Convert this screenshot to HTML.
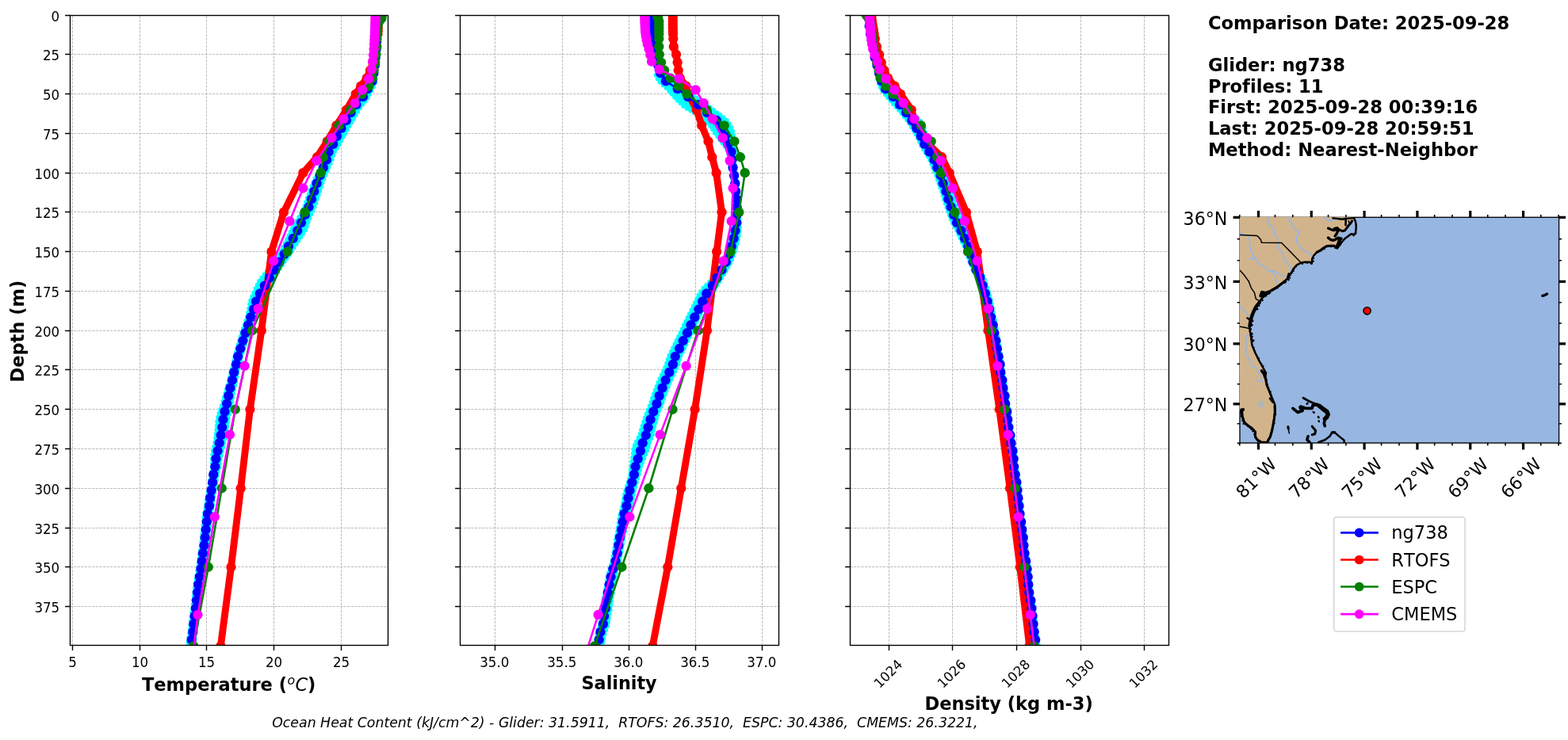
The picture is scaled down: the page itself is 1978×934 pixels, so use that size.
<!DOCTYPE html>
<html lang="en"><head><meta charset="utf-8"><title>Glider / Model Profile Comparison</title>
<style>html,body{margin:0;padding:0;background:#fff}body{width:1978px;height:934px;overflow:hidden}svg{display:block}text{font-family:"DejaVu Sans","Liberation Sans",sans-serif;fill:#000;font-variant-ligatures:none;font-kerning:none}.tk{font-size:16.67px}.b{font-weight:bold}.g{stroke:#b0b0b0;stroke-width:.87;stroke-dasharray:3.2 1.4;fill:none}.sp{stroke:#000;stroke-width:1.39;fill:none;stroke-linecap:square}.t{stroke:#000;stroke-width:1.39;fill:none}</style></head><body>
<svg width="1978" height="934" viewBox="0 0 1978 934" role="img" aria-label="Glider and ocean model profile comparison">
<rect width="1978" height="934" fill="#fff"/>
<g id="panel1">
<clipPath id="c1"><rect x="88.5" y="19.5" width="401" height="795"/></clipPath>
<path class="g" d="M91.5 814.5 V19.5 M176.5 814.5 V19.5 M260.5 814.5 V19.5 M345.5 814.5 V19.5 M430.5 814.5 V19.5 M88.5 19.5 H489.5 M88.5 68.5 H489.5 M88.5 118.5 H489.5 M88.5 168.5 H489.5 M88.5 218.5 H489.5 M88.5 267.5 H489.5 M88.5 317.5 H489.5 M88.5 367.5 H489.5 M88.5 417.5 H489.5 M88.5 466.5 H489.5 M88.5 516.5 H489.5 M88.5 566.5 H489.5 M88.5 616.5 H489.5 M88.5 666.5 H489.5 M88.5 715.5 H489.5 M88.5 765.5 H489.5"/>
<g clip-path="url(#c1)">
<path d="M473.6 17.1 L473.6 19.1 L473.55 21.1 L473.5 23.1 L473.45 25.1 L473.41 27.1 L473.36 29.1 L473.31 31.1 L473.26 33.1 L473.22 35.1 L473.17 37.1 L473.12 39.1 L473.07 41.1 L473.02 43.1 L472.96 45.1 L472.91 47.1 L472.85 49.1 L472.79 51.1 L472.68 53.1 L472.56 55.1 L472.44 57.1 L472.33 59.1 L472.21 61.1 L472.09 63.1 L471.92 65.1 L471.74 67.1 L471.57 69.1 L471.4 71.1 L471.22 73.1 L471.05 75.1 L470.88 77.1 L470.69 79.1 L470.49 81.1 L470.29 83.1 L470.09 85.1 L469.89 87.1 L469.59 89.1 L469.21 91.1 L468.69 93.1 L468.06 95.1 L467.43 97.1 L466.79 99.1 L466.3 101.1 L465.92 103.1 L464.76 105.1 L463.55 107.1 L462.35 109.1 L461.14 111.1 L459.94 113.1 L458.75 115.1 L457.56 117.1 L456.36 119.1 L455.17 121.1 L453.98 123.1 L452.28 125.1 L450.49 127.1 L448.7 129.1 L446.91 131.1 L445.17 133.1 L443.83 135.1 L442.5 137.1 L441.17 139.1 L439.83 141.1 L438.57 143.1 L437.45 145.1 L436.33 147.1 L435.22 149.1 L434.1 151.1 L432.88 153.1 L431.57 155.1 L430.25 157.1 L428.94 159.1 L427.63 161.1 L426.46 163.1 L425.35 165.1 L424.23 167.1 L423.12 169.1 L421.97 171.1 L420.97 173.1 L419.97 175.1 L418.97 177.1 L417.97 179.1 L416.97 181.1 L415.76 183.1 L414.54 185.1 L413.33 187.1 L412.11 189.1 L410.86 191.1 L410.2 193.1 L409.6 195.1 L409 197.1 L408.4 199.1 L407.78 201.1 L406.85 203.1 L405.88 205.1 L404.91 207.1 L403.94 209.1 L402.98 211.1 L402.01 213.1 L401.03 215.1 L400.06 217.1 L399.09 219.1 L398.12 221.1 L397.18 223.1 L396.25 225.1 L395.36 227.1 L394.47 229.1 L393.58 231.1 L392.81 233.1 L392.06 235.1 L391.32 237.1 L390.57 239.1 L389.82 241.1 L389.07 243.1 L388.31 245.1 L387.56 247.1 L386.81 249.1 L386.1 251.1 L385.43 253.1 L384.77 255.1 L384.1 257.1 L383.43 259.1 L382.62 261.1 L381.67 263.1 L380.72 265.1 L379.77 267.1 L378.82 269.1 L377.73 271.1 L376.52 273.1 L375.31 275.1 L374.1 277.1 L372.89 279.1 L371.69 281.1 L370.5 283.1 L369.3 285.1 L368.11 287.1 L366.92 289.1 L365.93 291.1 L365 293.1 L364.08 295.1 L363.15 297.1 L362.23 299.1 L361.28 301.1 L360.3 303.1 L359.32 305.1 L358.35 307.1 L357.37 309.1 L356.4 311.1 L355.35 313.1 L354.3 315.1 L353.25 317.1 L352.2 319.1 L350.98 321.1 L349.73 323.1 L348.48 325.1 L347.23 327.1 L345.99 329.1 L344.55 331.1 L342.95 333.1 L341.34 335.1 L339.73 337.1 L338.12 339.1 L336.48 341.1 L334.82 343.1 L333.15 345.1 L331.59 347.1 L330.02 349.1 L328.45 351.1 L326.88 353.1 L325.35 355.1 L324.41 357.1 L323.48 359.1 L322.57 361.1 L321.68 363.1 L320.79 365.1 L319.9 367.1 L319.02 369.1 L318.19 371.1 L317.34 373.1 L316.49 375.1 L315.64 377.1 L314.79 379.1 L314.28 381.1 L313.94 383.1 L313.61 385.1 L313.27 387.1 L312.93 389.1 L312.52 391.1 L312.08 393.1 L311.65 395.1 L311.22 397.1 L310.78 399.1 L310.26 401.1 L309.62 403.1 L308.99 405.1 L308.36 407.1 L307.72 409.1 L307.02 411.1 L306.29 413.1 L305.56 415.1 L304.83 417.1 L304.09 419.1 L303.44 421.1 L302.84 423.1 L302.23 425.1 L301.63 427.1 L301.03 429.1 L300.44 431.1 L299.86 433.1 L299.28 435.1 L298.69 437.1 L298.11 439.1 L297.52 441.1 L296.92 443.1 L296.32 445.1 L295.75 447.1 L295.17 449.1 L294.69 451.1 L294.31 453.1 L293.93 455.1 L293.55 457.1 L293.17 459.1 L292.72 461.1 L292.21 463.1 L291.69 465.1 L291.07 467.1 L290.45 469.1 L289.94 471.1 L289.47 473.1 L289 475.1 L288.53 477.1 L288.07 479.1 L287.51 481.1 L286.93 483.1 L286.35 485.1 L285.76 487.1 L285.18 489.1 L284.61 491.1 L284.02 493.1 L283.44 495.1 L282.85 497.1 L282.26 499.1 L281.69 501.1 L281.13 503.1 L280.56 505.1 L280 507.1 L279.43 509.1 L278.76 511.1 L278.07 513.1 L277.37 515.1 L276.68 517.1 L275.99 519.1 L275.39 521.1 L274.81 523.1 L274.23 525.1 L273.65 527.1 L273.09 529.1 L272.92 531.1 L272.79 533.1 L272.66 535.1 L272.53 537.1 L272.41 539.1 L272.19 541.1 L271.97 543.1 L271.75 545.1 L271.54 547.1 L271.32 549.1 L271.02 551.1 L270.72 553.1 L270.41 555.1 L270.11 557.1 L269.8 559.1 L269.35 561.1 L268.89 563.1 L268.43 565.1 L267.97 567.1 L267.52 569.1 L267.1 571.1 L266.96 573.1 L266.81 575.1 L266.67 577.1 L266.53 579.1 L266.58 581.1 L266.63 583.1 L266.69 585.1 L266.74 587.1 L266.8 589.1 L266.53 591.1 L266.11 593.1 L265.69 595.1 L265.28 597.1 L264.86 599.1 L264.61 601.1 L264.4 603.1 L264.18 605.1 L263.96 607.1 L263.74 609.1 L263.44 611.1 L263.12 613.1 L262.8 615.1 L262.38 617.1 L261.96 619.1 L261.54 621.1 L261.12 623.1 L260.71 625.1 L260.29 627.1 L259.87 629.1 L259.55 631.1 L259.25 633.1 L258.96 635.1 L258.77 637.1 L258.59 639.1 L258.24 641.1 L257.81 643.1 L257.38 645.1 L256.95 647.1 L256.52 649.1 L256.27 651.1 L256.09 653.1 L255.9 655.1 L255.72 657.1 L255.54 659.1 L255.33 661.1 L255.12 663.1 L254.9 665.1 L254.69 667.1 L254.47 669.1 L254.28 671.1 L254.09 673.1 L253.89 675.1 L253.7 677.1 L253.5 679.1 L253.29 681.1 L253.07 683.1 L252.86 685.1 L252.64 687.1 L252.39 689.1 L252.09 691.1 L251.79 693.1 L251.49 695.1 L251.18 697.1 L250.91 699.1 L250.68 701.1 L250.45 703.1 L250.21 705.1 L249.97 707.1 L249.71 709.1 L249.42 711.1 L249.14 713.1 L248.85 715.1 L248.57 717.1 L248.27 719.1 L247.93 721.1 L247.58 723.1 L247.24 725.1 L246.9 727.1 L246.56 729.1 L246.22 731.1 L245.88 733.1 L245.55 735.1 L245.21 737.1 L244.95 739.1 L244.73 741.1 L244.5 743.1 L244.28 745.1 L244.06 747.1 L243.84 749.1 L243.61 751.1 L243.39 753.1 L243.17 755.1 L242.94 757.1 L242.73 759.1 L242.51 761.1 L242.3 763.1 L242.09 765.1 L241.87 767.1 L241.61 769.1 L241.34 771.1 L241.07 773.1 L240.8 775.1 L240.53 777.1 L240.26 779.1 L240 781.1 L239.74 783.1 L239.48 785.1 L239.22 787.1 L238.99 789.1 L238.79 791.1 L238.58 793.1 L238.38 795.1 L238.18 797.1 L237.92 799.1 L237.58 801.1 L237.23 803.1 L236.89 805.1 L236.55 807.1 L236.3 809.1 L236.1 811.1 L235.9 813.1 L235.7 815.1 L235.5 817.1 L245.39 817.1 L245.58 815.1 L245.78 813.1 L245.98 811.1 L246.17 809.1 L246.42 807.1 L246.75 805.1 L247.09 803.1 L247.43 801.1 L247.77 799.1 L248.02 797.1 L248.22 795.1 L248.41 793.1 L248.61 791.1 L248.81 789.1 L249.04 787.1 L249.3 785.1 L249.55 783.1 L249.8 781.1 L250.06 779.1 L250.32 777.1 L250.59 775.1 L250.85 773.1 L251.12 771.1 L251.39 769.1 L251.64 767.1 L251.85 765.1 L252.06 763.1 L252.27 761.1 L252.48 759.1 L252.69 757.1 L252.9 755.1 L253.12 753.1 L253.34 751.1 L253.56 749.1 L253.78 747.1 L253.99 745.1 L254.21 743.1 L254.43 741.1 L254.65 739.1 L254.9 737.1 L255.23 735.1 L255.57 733.1 L255.9 731.1 L256.23 729.1 L256.57 727.1 L256.91 725.1 L257.24 723.1 L257.58 721.1 L257.92 719.1 L258.21 717.1 L258.49 715.1 L258.77 713.1 L259.05 711.1 L259.33 709.1 L259.59 707.1 L259.82 705.1 L260.06 703.1 L260.29 701.1 L260.53 699.1 L260.84 697.1 L261.18 695.1 L261.51 693.1 L261.85 691.1 L262.19 689.1 L262.48 687.1 L262.73 685.1 L262.98 683.1 L263.24 681.1 L263.49 679.1 L263.72 677.1 L263.95 675.1 L264.18 673.1 L264.41 671.1 L264.64 669.1 L264.89 667.1 L265.15 665.1 L265.4 663.1 L265.65 661.1 L265.89 659.1 L266.11 657.1 L266.33 655.1 L266.56 653.1 L266.78 651.1 L267.06 649.1 L267.53 647.1 L267.99 645.1 L268.46 643.1 L268.92 641.1 L269.32 639.1 L269.53 637.1 L269.75 635.1 L269.95 633.1 L270.15 631.1 L270.38 629.1 L270.7 627.1 L271.01 625.1 L271.33 623.1 L271.65 621.1 L271.96 619.1 L272.28 617.1 L272.6 615.1 L273 613.1 L273.4 611.1 L273.78 609.1 L274.08 607.1 L274.38 605.1 L274.67 603.1 L274.97 601.1 L275.3 599.1 L275.79 597.1 L276.29 595.1 L276.79 593.1 L277.28 591.1 L277.75 589.1 L278.02 587.1 L278.29 585.1 L278.56 583.1 L278.83 581.1 L279.11 579.1 L279.58 577.1 L280.04 575.1 L280.51 573.1 L280.98 571.1 L281.4 569.1 L281.84 567.1 L282.28 565.1 L282.73 563.1 L283.17 561.1 L283.6 559.1 L284.07 557.1 L284.55 555.1 L285.02 553.1 L285.5 551.1 L285.97 549.1 L286.36 547.1 L286.75 545.1 L287.07 543.1 L287.38 541.1 L287.7 539.1 L287.93 537.1 L288.16 535.1 L288.39 533.1 L288.62 531.1 L288.88 529.1 L289.25 527.1 L289.62 525.1 L289.99 523.1 L290.36 521.1 L290.75 519.1 L291.23 517.1 L291.71 515.1 L292.19 513.1 L292.67 511.1 L293.14 509.1 L293.51 507.1 L293.87 505.1 L294.24 503.1 L294.6 501.1 L294.97 499.1 L295.36 497.1 L295.75 495.1 L296.13 493.1 L296.52 491.1 L296.92 489.1 L297.38 487.1 L297.83 485.1 L298.29 483.1 L298.74 481.1 L299.17 479.1 L299.51 477.1 L299.85 475.1 L300.19 473.1 L300.53 471.1 L300.91 469.1 L301.4 467.1 L301.9 465.1 L302.47 463.1 L303.04 461.1 L303.54 459.1 L303.98 457.1 L304.42 455.1 L304.86 453.1 L305.3 451.1 L305.85 449.1 L306.48 447.1 L307.12 445.1 L307.75 443.1 L308.38 441.1 L309.01 439.1 L309.62 437.1 L310.23 435.1 L310.85 433.1 L311.46 431.1 L312.09 429.1 L312.72 427.1 L313.35 425.1 L313.99 423.1 L314.62 421.1 L315.29 419.1 L316.03 417.1 L316.76 415.1 L317.49 413.1 L318.22 411.1 L318.92 409.1 L319.56 407.1 L320.19 405.1 L320.82 403.1 L321.46 401.1 L322.14 399.1 L322.92 397.1 L323.71 395.1 L324.49 393.1 L325.27 391.1 L326.03 389.1 L326.72 387.1 L327.41 385.1 L328.1 383.1 L328.79 381.1 L329.59 379.1 L330.66 377.1 L331.73 375.1 L332.8 373.1 L333.87 371.1 L334.97 369.1 L336.19 367.1 L337.41 365.1 L338.63 363.1 L339.85 361.1 L341.1 359.1 L342.36 357.1 L343.63 355.1 L344.99 353.1 L346.36 351.1 L347.73 349.1 L349.1 347.1 L350.46 345.1 L351.8 343.1 L353.13 341.1 L354.44 339.1 L355.71 337.1 L356.99 335.1 L358.26 333.1 L359.54 331.1 L360.88 329.1 L362.32 327.1 L363.77 325.1 L365.22 323.1 L366.67 321.1 L368.09 319.1 L369.34 317.1 L370.59 315.1 L371.84 313.1 L373.09 311.1 L374.33 309.1 L375.65 307.1 L376.98 305.1 L378.31 303.1 L379.64 301.1 L380.94 299.1 L382.21 297.1 L383.49 295.1 L384.76 293.1 L386.04 291.1 L386.99 289.1 L387.69 287.1 L388.38 285.1 L389.07 283.1 L389.76 281.1 L390.47 279.1 L391.18 277.1 L391.89 275.1 L392.6 273.1 L393.31 271.1 L394.12 269.1 L395.07 267.1 L396.02 265.1 L396.97 263.1 L397.92 261.1 L398.73 259.1 L399.4 257.1 L400.07 255.1 L400.73 253.1 L401.4 251.1 L402.05 249.1 L402.69 247.1 L403.32 245.1 L403.95 243.1 L404.59 241.1 L405.22 239.1 L405.84 237.1 L406.47 235.1 L407.1 233.1 L407.74 231.1 L408.52 229.1 L409.29 227.1 L410.06 225.1 L410.87 223.1 L411.69 221.1 L412.54 219.1 L413.39 217.1 L414.24 215.1 L415.09 213.1 L415.94 211.1 L416.79 209.1 L417.64 207.1 L418.49 205.1 L419.34 203.1 L420.15 201.1 L420.74 199.1 L421.44 197.1 L422.14 195.1 L422.84 193.1 L423.61 191.1 L424.93 189.1 L426.2 187.1 L427.47 185.1 L428.74 183.1 L429.99 181.1 L431.04 179.1 L432.09 177.1 L433.14 175.1 L434.19 173.1 L435.24 171.1 L436.39 169.1 L437.46 167.1 L438.52 165.1 L439.59 163.1 L440.71 161.1 L441.97 159.1 L443.23 157.1 L444.49 155.1 L445.76 153.1 L446.93 151.1 L448 149.1 L449.06 147.1 L450.13 145.1 L451.19 143.1 L452.41 141.1 L453.69 139.1 L454.98 137.1 L456.26 135.1 L457.54 133.1 L459.24 131.1 L460.91 129.1 L462.5 127.1 L464.09 125.1 L465.59 123.1 L466.58 121.1 L467.57 119.1 L468.57 117.1 L469.56 115.1 L470.55 113.1 L471.55 111.1 L472.51 109.1 L473.42 107.1 L474.32 105.1 L475.18 103.1 L475.27 101.1 L475.2 99.1 L474.96 97.1 L474.71 95.1 L474.47 93.1 L474.5 91.1 L474.87 89.1 L475.16 87.1 L475.34 85.1 L475.53 83.1 L475.72 81.1 L475.9 79.1 L476.08 77.1 L476.24 75.1 L476.4 73.1 L476.55 71.1 L476.71 69.1 L476.87 67.1 L477.03 65.1 L477.19 63.1 L477.3 61.1 L477.4 59.1 L477.51 57.1 L477.61 55.1 L477.71 53.1 L477.81 51.1 L477.86 49.1 L477.9 47.1 L477.94 45.1 L477.98 43.1 L478.02 41.1 L478.06 39.1 L478.09 37.1 L478.13 35.1 L478.16 33.1 L478.19 31.1 L478.23 29.1 L478.26 27.1 L478.3 25.1 L478.33 23.1 L478.36 21.1 L478.4 19.1 L478.4 17.1Z" fill="#0ff" stroke="#0ff" stroke-width="1" stroke-linejoin="round"/>
<path d="M474.7 17.1 L474.7 19.1 L474.65 21.1 L474.6 23.1 L474.55 25.1 L474.51 27.1 L474.46 29.1 L474.41 31.1 L474.36 33.1 L474.32 35.1 L474.27 37.1 L474.22 39.1 L474.17 41.1 L474.12 43.1 L474.06 45.1 L474.01 47.1 L473.95 49.1 L473.89 51.1 L473.78 53.1 L473.66 55.1 L473.54 57.1 L473.43 59.1 L473.31 61.1 L473.19 63.1 L473.02 65.1 L472.84 67.1 L472.67 69.1 L472.5 71.1 L472.32 73.1 L472.15 75.1 L471.98 77.1 L471.79 79.1 L471.59 81.1 L471.39 83.1 L471.19 85.1 L470.99 87.1 L470.69 89.1 L470.31 91.1 L469.79 93.1 L469.16 95.1 L468.53 97.1 L467.89 99.1 L467.4 101.1 L467.02 103.1 L465.86 105.1 L464.65 107.1 L463.45 109.1 L462.24 111.1 L461.04 113.1 L459.85 115.1 L458.66 117.1 L457.46 119.1 L456.27 121.1 L455.08 123.1 L453.38 125.1 L451.59 127.1 L449.8 129.1 L448.01 131.1 L446.27 133.1 L444.93 135.1 L443.6 137.1 L442.27 139.1 L440.93 141.1 L439.67 143.1 L438.55 145.1 L437.43 147.1 L436.32 149.1 L435.2 151.1 L433.98 153.1 L432.67 155.1 L431.35 157.1 L430.04 159.1 L428.73 161.1 L427.56 163.1 L426.45 165.1 L425.33 167.1 L424.22 169.1 L423.07 171.1 L422.07 173.1 L421.07 175.1 L420.07 177.1 L419.07 179.1 L418.07 181.1 L416.86 183.1 L415.64 185.1 L414.43 187.1 L413.21 189.1 L411.96 191.1 L411.3 193.1 L410.69 195.1 L410.09 197.1 L409.5 199.1 L408.88 201.1 L407.95 203.1 L406.98 205.1 L406.01 207.1 L405.04 209.1 L404.08 211.1 L403.11 213.1 L402.13 215.1 L401.16 217.1 L400.19 219.1 L399.22 221.1 L398.28 223.1 L397.35 225.1 L396.46 227.1 L395.57 229.1 L394.68 231.1 L393.91 233.1 L393.16 235.1 L392.42 237.1 L391.67 239.1 L390.92 241.1 L390.17 243.1 L389.41 245.1 L388.66 247.1 L387.91 249.1 L387.2 251.1 L386.53 253.1 L385.87 255.1 L385.2 257.1 L384.53 259.1 L383.72 261.1 L382.77 263.1 L381.82 265.1 L380.87 267.1 L379.92 269.1 L378.83 271.1 L377.62 273.1 L376.41 275.1 L375.2 277.1 L373.99 279.1 L372.79 281.1 L371.6 283.1 L370.4 285.1 L369.21 287.1 L368.02 289.1 L367.03 291.1 L366.1 293.1 L365.18 295.1 L364.25 297.1 L363.33 299.1 L362.38 301.1 L361.4 303.1 L360.42 305.1 L359.45 307.1 L358.47 309.1 L357.5 311.1 L356.45 313.1 L355.4 315.1 L354.35 317.1 L353.3 319.1 L352.08 321.1 L350.83 323.1 L349.58 325.1 L348.33 327.1 L347.09 329.1 L345.65 331.1 L344.05 333.1 L342.44 335.1 L340.83 337.1 L339.22 339.1 L337.58 341.1 L335.92 343.1 L334.25 345.1 L332.69 347.1 L331.12 349.1 L329.55 351.1 L327.98 353.1 L326.45 355.1 L325.51 357.1 L324.58 359.1 L323.67 361.1 L322.78 363.1 L321.89 365.1 L321 367.1 L320.12 369.1 L319.29 371.1 L318.44 373.1 L317.59 375.1 L316.74 377.1 L315.89 379.1 L315.38 381.1 L315.04 383.1 L314.7 385.1 L314.37 387.1 L314.03 389.1 L313.62 391.1 L313.18 393.1 L312.75 395.1 L312.32 397.1 L311.88 399.1 L311.36 401.1 L310.72 403.1 L310.09 405.1 L309.46 407.1 L308.82 409.1 L308.12 411.1 L307.39 413.1 L306.66 415.1 L305.93 417.1 L305.19 419.1 L304.54 421.1 L303.94 423.1 L303.33 425.1 L302.73 427.1 L302.13 429.1 L301.54 431.1 L300.96 433.1 L300.38 435.1 L299.79 437.1 L299.21 439.1 L298.62 441.1 L298.02 443.1 L297.42 445.1 L296.85 447.1 L296.27 449.1 L295.78 451.1 L295.4 453.1 L295.02 455.1 L294.64 457.1 L294.26 459.1 L293.82 461.1 L293.31 463.1 L292.79 465.1 L292.17 467.1 L291.55 469.1 L291.04 471.1 L290.57 473.1 L290.1 475.1 L289.63 477.1 L289.17 479.1 L288.61 481.1 L288.03 483.1 L287.45 485.1 L286.86 487.1 L286.28 489.1 L285.71 491.1 L285.12 493.1 L284.54 495.1 L283.95 497.1 L283.36 499.1 L282.79 501.1 L282.23 503.1 L281.66 505.1 L281.1 507.1 L280.53 509.1 L279.86 511.1 L279.17 513.1 L278.47 515.1 L277.78 517.1 L277.09 519.1 L276.49 521.1 L275.91 523.1 L275.33 525.1 L274.75 527.1 L274.19 529.1 L274.02 531.1 L273.89 533.1 L273.76 535.1 L273.63 537.1 L273.5 539.1 L273.29 541.1 L273.07 543.1 L272.85 545.1 L272.64 547.1 L272.42 549.1 L272.12 551.1 L271.82 553.1 L271.51 555.1 L271.21 557.1 L270.9 559.1 L270.45 561.1 L269.99 563.1 L269.53 565.1 L269.07 567.1 L268.62 569.1 L268.2 571.1 L268.06 573.1 L267.91 575.1 L267.77 577.1 L267.63 579.1 L267.68 581.1 L267.73 583.1 L267.79 585.1 L267.84 587.1 L267.9 589.1 L267.63 591.1 L267.21 593.1 L266.79 595.1 L266.38 597.1 L265.96 599.1 L265.71 601.1 L265.5 603.1 L265.28 605.1 L265.06 607.1 L264.84 609.1 L264.54 611.1 L264.22 613.1 L263.9 615.1 L263.48 617.1 L263.06 619.1 L262.64 621.1 L262.22 623.1 L261.81 625.1 L261.39 627.1 L260.97 629.1 L260.65 631.1 L260.35 633.1 L260.06 635.1 L259.87 637.1 L259.69 639.1 L259.34 641.1 L258.91 643.1 L258.48 645.1 L258.05 647.1 L257.62 649.1 L257.37 651.1 L257.19 653.1 L257 655.1 L256.82 657.1 L256.64 659.1 L256.43 661.1 L256.22 663.1 L256 665.1 L255.79 667.1 L255.57 669.1 L255.38 671.1 L255.19 673.1 L254.99 675.1 L254.8 677.1 L254.6 679.1 L254.39 681.1 L254.17 683.1 L253.96 685.1 L253.74 687.1 L253.49 689.1 L253.19 691.1 L252.89 693.1 L252.59 695.1 L252.28 697.1 L252.01 699.1 L251.78 701.1 L251.55 703.1 L251.31 705.1 L251.07 707.1 L250.81 709.1 L250.52 711.1 L250.24 713.1 L249.95 715.1 L249.67 717.1 L249.37 719.1 L249.03 721.1 L248.68 723.1 L248.34 725.1 L248 727.1 L247.66 729.1 L247.32 731.1 L246.98 733.1 L246.65 735.1 L246.31 737.1 L246.05 739.1 L245.83 741.1 L245.6 743.1 L245.38 745.1 L245.16 747.1 L244.94 749.1 L244.71 751.1 L244.49 753.1 L244.27 755.1 L244.04 757.1 L243.83 759.1 L243.61 761.1 L243.4 763.1 L243.19 765.1 L242.97 767.1 L242.71 769.1 L242.44 771.1 L242.17 773.1 L241.9 775.1 L241.63 777.1 L241.36 779.1 L241.1 781.1 L240.84 783.1 L240.58 785.1 L240.32 787.1 L240.09 789.1 L239.89 791.1 L239.68 793.1 L239.48 795.1 L239.28 797.1 L239.02 799.1 L238.68 801.1 L238.33 803.1 L237.99 805.1 L237.65 807.1 L237.4 809.1 L237.2 811.1 L237 813.1 L236.8 815.1 L236.6 817.1" fill="none" stroke="#0ff" stroke-width="5.4" stroke-linecap="round" stroke-dasharray="0 5.3"/>
<path d="M477.3 17.1 L477.3 19.1 L477.26 21.1 L477.23 23.1 L477.2 25.1 L477.16 27.1 L477.13 29.1 L477.09 31.1 L477.06 33.1 L477.03 35.1 L476.99 37.1 L476.96 39.1 L476.92 41.1 L476.88 43.1 L476.84 45.1 L476.8 47.1 L476.76 49.1 L476.71 51.1 L476.61 53.1 L476.51 55.1 L476.41 57.1 L476.3 59.1 L476.2 61.1 L476.09 63.1 L475.93 65.1 L475.77 67.1 L475.61 69.1 L475.45 71.1 L475.3 73.1 L475.14 75.1 L474.98 77.1 L474.8 79.1 L474.62 81.1 L474.43 83.1 L474.24 85.1 L474.06 87.1 L473.77 89.1 L473.4 91.1 L473.37 93.1 L473.61 95.1 L473.86 97.1 L474.1 99.1 L474.17 101.1 L474.08 103.1 L473.22 105.1 L472.32 107.1 L471.41 109.1 L470.45 111.1 L469.45 113.1 L468.46 115.1 L467.47 117.1 L466.47 119.1 L465.48 121.1 L464.49 123.1 L462.99 125.1 L461.4 127.1 L459.81 129.1 L458.14 131.1 L456.44 133.1 L455.16 135.1 L453.88 137.1 L452.59 139.1 L451.31 141.1 L450.09 143.1 L449.03 145.1 L447.96 147.1 L446.9 149.1 L445.83 151.1 L444.66 153.1 L443.39 155.1 L442.13 157.1 L440.87 159.1 L439.61 161.1 L438.49 163.1 L437.42 165.1 L436.36 167.1 L435.29 169.1 L434.14 171.1 L433.09 173.1 L432.04 175.1 L430.99 177.1 L429.94 179.1 L428.89 181.1 L427.64 183.1 L426.37 185.1 L425.1 187.1 L423.83 189.1 L422.51 191.1 L421.74 193.1 L421.04 195.1 L420.34 197.1 L419.64 199.1 L419.05 201.1 L418.24 203.1 L417.39 205.1 L416.54 207.1 L415.69 209.1 L414.84 211.1 L413.99 213.1 L413.14 215.1 L412.29 217.1 L411.44 219.1 L410.59 221.1 L409.77 223.1 L408.96 225.1 L408.19 227.1 L407.42 229.1 L406.64 231.1 L406 233.1 L405.37 235.1 L404.74 237.1 L404.12 239.1 L403.49 241.1 L402.85 243.1 L402.22 245.1 L401.59 247.1 L400.95 249.1 L400.3 251.1 L399.63 253.1 L398.97 255.1 L398.3 257.1 L397.63 259.1 L396.82 261.1 L395.87 263.1 L394.92 265.1 L393.97 267.1 L393.02 269.1 L392.21 271.1 L391.5 273.1 L390.79 275.1 L390.08 277.1 L389.37 279.1 L388.66 281.1 L387.97 283.1 L387.28 285.1 L386.59 287.1 L385.89 289.1 L384.94 291.1 L383.66 293.1 L382.39 295.1 L381.11 297.1 L379.84 299.1 L378.54 301.1 L377.21 303.1 L375.88 305.1 L374.55 307.1 L373.23 309.1 L371.99 311.1 L370.74 313.1 L369.49 315.1 L368.24 317.1 L366.99 319.1 L365.57 321.1 L364.12 323.1 L362.67 325.1 L361.22 327.1 L359.78 329.1 L358.44 331.1 L357.16 333.1 L355.89 335.1 L354.61 337.1 L353.34 339.1 L352.03 341.1 L350.7 343.1 L349.36 345.1 L348 347.1 L346.63 349.1 L345.26 351.1 L343.89 353.1 L342.53 355.1 L341.26 357.1 L340 359.1 L338.75 361.1 L337.53 363.1 L336.31 365.1 L335.09 367.1 L333.87 369.1 L332.77 371.1 L331.7 373.1 L330.63 375.1 L329.56 377.1 L328.49 379.1 L327.69 381.1 L327 383.1 L326.31 385.1 L325.62 387.1 L324.93 389.1 L324.17 391.1 L323.39 393.1 L322.61 395.1 L321.82 397.1 L321.04 399.1 L320.36 401.1 L319.72 403.1 L319.09 405.1 L318.46 407.1 L317.82 409.1 L317.12 411.1 L316.39 413.1 L315.66 415.1 L314.93 417.1 L314.19 419.1 L313.52 421.1 L312.89 423.1 L312.25 425.1 L311.62 427.1 L310.99 429.1 L310.36 431.1 L309.75 433.1 L309.13 435.1 L308.52 437.1 L307.91 439.1 L307.28 441.1 L306.65 443.1 L306.02 445.1 L305.38 447.1 L304.75 449.1 L304.2 451.1 L303.76 453.1 L303.32 455.1 L302.88 457.1 L302.44 459.1 L301.94 461.1 L301.37 463.1 L300.8 465.1 L300.3 467.1 L299.81 469.1 L299.43 471.1 L299.09 473.1 L298.75 475.1 L298.41 477.1 L298.07 479.1 L297.64 481.1 L297.19 483.1 L296.73 485.1 L296.28 487.1 L295.82 489.1 L295.42 491.1 L295.03 493.1 L294.65 495.1 L294.26 497.1 L293.87 499.1 L293.5 501.1 L293.14 503.1 L292.77 505.1 L292.41 507.1 L292.04 509.1 L291.57 511.1 L291.09 513.1 L290.61 515.1 L290.13 517.1 L289.65 519.1 L289.26 521.1 L288.89 523.1 L288.52 525.1 L288.15 527.1 L287.78 529.1 L287.52 531.1 L287.29 533.1 L287.06 535.1 L286.83 537.1 L286.6 539.1 L286.28 541.1 L285.97 543.1 L285.65 545.1 L285.26 547.1 L284.87 549.1 L284.4 551.1 L283.92 553.1 L283.45 555.1 L282.97 557.1 L282.5 559.1 L282.07 561.1 L281.63 563.1 L281.18 565.1 L280.74 567.1 L280.3 569.1 L279.88 571.1 L279.41 573.1 L278.94 575.1 L278.48 577.1 L278.01 579.1 L277.73 581.1 L277.46 583.1 L277.19 585.1 L276.92 587.1 L276.65 589.1 L276.18 591.1 L275.69 593.1 L275.19 595.1 L274.69 597.1 L274.2 599.1 L273.87 601.1 L273.57 603.1 L273.28 605.1 L272.98 607.1 L272.68 609.1 L272.3 611.1 L271.9 613.1 L271.5 615.1 L271.18 617.1 L270.86 619.1 L270.55 621.1 L270.23 623.1 L269.91 625.1 L269.6 627.1 L269.28 629.1 L269.05 631.1 L268.85 633.1 L268.65 635.1 L268.43 637.1 L268.22 639.1 L267.82 641.1 L267.36 643.1 L266.89 645.1 L266.43 647.1 L265.96 649.1 L265.68 651.1 L265.46 653.1 L265.23 655.1 L265.01 657.1 L264.79 659.1 L264.55 661.1 L264.3 663.1 L264.05 665.1 L263.79 667.1 L263.54 669.1 L263.31 671.1 L263.08 673.1 L262.85 675.1 L262.62 677.1 L262.39 679.1 L262.14 681.1 L261.88 683.1 L261.63 685.1 L261.38 687.1 L261.09 689.1 L260.75 691.1 L260.41 693.1 L260.08 695.1 L259.74 697.1 L259.43 699.1 L259.19 701.1 L258.96 703.1 L258.72 705.1 L258.49 707.1 L258.23 709.1 L257.95 711.1 L257.67 713.1 L257.39 715.1 L257.11 717.1 L256.82 719.1 L256.48 721.1 L256.14 723.1 L255.81 725.1 L255.47 727.1 L255.13 729.1 L254.8 731.1 L254.47 733.1 L254.13 735.1 L253.8 737.1 L253.55 739.1 L253.33 741.1 L253.11 743.1 L252.89 745.1 L252.68 747.1 L252.46 749.1 L252.24 751.1 L252.02 753.1 L251.8 755.1 L251.59 757.1 L251.38 759.1 L251.17 761.1 L250.96 763.1 L250.75 765.1 L250.54 767.1 L250.29 769.1 L250.02 771.1 L249.75 773.1 L249.49 775.1 L249.22 777.1 L248.96 779.1 L248.7 781.1 L248.45 783.1 L248.2 785.1 L247.94 787.1 L247.71 789.1 L247.51 791.1 L247.31 793.1 L247.12 795.1 L246.92 797.1 L246.67 799.1 L246.33 801.1 L245.99 803.1 L245.65 805.1 L245.32 807.1 L245.07 809.1 L244.88 811.1 L244.68 813.1 L244.48 815.1 L244.29 817.1" fill="none" stroke="#0ff" stroke-width="5.4" stroke-linecap="round" stroke-dasharray="0 5.3" stroke-dashoffset="2"/>
<path d="M477.5 19.1 L477.3 23.08 L477.2 27.06 L477 31.04 L476.8 35.02 L476.7 39.01 L476.5 42.99 L475 48.96 L474.5 58.91 L473 68.86 L470.5 78.81 L467 88.77 L462.7 98.72 L455.3 108.67 L448.8 118.62 L437.1 138.53 L424.4 158.44 L412.7 178.34 L400 198.24 L382.4 218.15 L357.9 267.91 L342.5 317.68 L329.8 417.2 L315.4 516.73 L303.7 616.25 L291.5 715.77 L278.4 815.3" fill="none" stroke="#f00" stroke-width="8.9" stroke-linejoin="round" stroke-linecap="round"/>
<g fill="#f00"><circle cx="477.5" cy="19.1" r="6.15"/><circle cx="477.3" cy="23.08" r="6.15"/><circle cx="477.2" cy="27.06" r="6.15"/><circle cx="477" cy="31.04" r="6.15"/><circle cx="476.8" cy="35.02" r="6.15"/><circle cx="476.7" cy="39.01" r="6.15"/><circle cx="476.5" cy="42.99" r="6.15"/><circle cx="475" cy="48.96" r="6.15"/><circle cx="474.5" cy="58.91" r="6.15"/><circle cx="473" cy="68.86" r="6.15"/><circle cx="470.5" cy="78.81" r="6.15"/><circle cx="467" cy="88.77" r="6.15"/><circle cx="462.7" cy="98.72" r="6.15"/><circle cx="455.3" cy="108.67" r="6.15"/><circle cx="448.8" cy="118.62" r="6.15"/><circle cx="437.1" cy="138.53" r="6.15"/><circle cx="424.4" cy="158.44" r="6.15"/><circle cx="412.7" cy="178.34" r="6.15"/><circle cx="400" cy="198.24" r="6.15"/><circle cx="382.4" cy="218.15" r="6.15"/><circle cx="357.9" cy="267.91" r="6.15"/><circle cx="342.5" cy="317.68" r="6.15"/><circle cx="329.8" cy="417.2" r="6.15"/><circle cx="315.4" cy="516.73" r="6.15"/><circle cx="303.7" cy="616.25" r="6.15"/><circle cx="291.5" cy="715.77" r="6.15"/><circle cx="278.4" cy="815.3" r="6.15"/></g>
<path d="M475.91 22.88 L475.67 32.81 L475.43 42.75 L475.1 52.68 L474.52 62.61 L473.67 72.54 L472.75 82.47 L471.36 92.4 L469.47 102.33 L463.84 112.27 L457.92 122.2 L449.39 132.13 L442.59 142.06 L437 151.99 L430.52 161.92 L425.04 171.86 L420.26 181.79 L414.6 191.72 L412.05 201.65 L407.84 211.58 L403.61 221.51 L399.58 231.45 L396.27 241.38 L392.93 251.31 L389.46 261.24 L384.73 271.17 L379.97 281.1 L375.26 291.04 L369.65 300.97 L363.91 310.9 L358.55 320.83 L352.38 330.76 L346.36 340.69 L340.07 350.62 L333.78 360.56 L327.82 370.49 L323.14 380.42 L319.92 390.35 L316.32 400.28 L313.15 410.21 L309.52 420.15 L306.38 430.08 L303.33 440.01 L300.18 449.94 L297.97 459.87 L295.16 469.8 L293.06 479.74 L290.41 489.67 L288.24 499.6 L286.17 509.53 L283.51 519.46 L281.42 529.39 L280.26 539.33 L278.69 549.26 L276.68 559.19 L274.5 569.12 L272.43 579.05 L271.33 588.98 L269.3 598.91 L268.17 608.85 L266.62 618.78 L265.04 628.71 L264 638.64 L261.93 648.57 L260.81 658.5 L259.69 668.44 L258.65 678.37 L257.5 688.3 L255.93 698.23 L254.76 708.16 L253.37 718.09 L251.71 728.03 L250.07 737.96 L248.99 747.89 L247.91 757.82 L246.87 767.75 L245.54 777.68 L244.27 787.62 L243.27 797.55 L241.65 807.48" fill="none" stroke="#00f" stroke-width="2.6" stroke-linejoin="round"/>
<g fill="#00f"><circle cx="475.91" cy="22.88" r="6.15"/><circle cx="475.67" cy="32.81" r="6.15"/><circle cx="475.43" cy="42.75" r="6.15"/><circle cx="475.1" cy="52.68" r="6.15"/><circle cx="474.52" cy="62.61" r="6.15"/><circle cx="473.67" cy="72.54" r="6.15"/><circle cx="472.75" cy="82.47" r="6.15"/><circle cx="471.36" cy="92.4" r="6.15"/><circle cx="469.47" cy="102.33" r="6.15"/><circle cx="463.84" cy="112.27" r="6.15"/><circle cx="457.92" cy="122.2" r="6.15"/><circle cx="449.39" cy="132.13" r="6.15"/><circle cx="442.59" cy="142.06" r="6.15"/><circle cx="437" cy="151.99" r="6.15"/><circle cx="430.52" cy="161.92" r="6.15"/><circle cx="425.04" cy="171.86" r="6.15"/><circle cx="420.26" cy="181.79" r="6.15"/><circle cx="414.6" cy="191.72" r="6.15"/><circle cx="412.05" cy="201.65" r="6.15"/><circle cx="407.84" cy="211.58" r="6.15"/><circle cx="403.61" cy="221.51" r="6.15"/><circle cx="399.58" cy="231.45" r="6.15"/><circle cx="396.27" cy="241.38" r="6.15"/><circle cx="392.93" cy="251.31" r="6.15"/><circle cx="389.46" cy="261.24" r="6.15"/><circle cx="384.73" cy="271.17" r="6.15"/><circle cx="379.97" cy="281.1" r="6.15"/><circle cx="375.26" cy="291.04" r="6.15"/><circle cx="369.65" cy="300.97" r="6.15"/><circle cx="363.91" cy="310.9" r="6.15"/><circle cx="358.55" cy="320.83" r="6.15"/><circle cx="352.38" cy="330.76" r="6.15"/><circle cx="346.36" cy="340.69" r="6.15"/><circle cx="340.07" cy="350.62" r="6.15"/><circle cx="333.78" cy="360.56" r="6.15"/><circle cx="327.82" cy="370.49" r="6.15"/><circle cx="323.14" cy="380.42" r="6.15"/><circle cx="319.92" cy="390.35" r="6.15"/><circle cx="316.32" cy="400.28" r="6.15"/><circle cx="313.15" cy="410.21" r="6.15"/><circle cx="309.52" cy="420.15" r="6.15"/><circle cx="306.38" cy="430.08" r="6.15"/><circle cx="303.33" cy="440.01" r="6.15"/><circle cx="300.18" cy="449.94" r="6.15"/><circle cx="297.97" cy="459.87" r="6.15"/><circle cx="295.16" cy="469.8" r="6.15"/><circle cx="293.06" cy="479.74" r="6.15"/><circle cx="290.41" cy="489.67" r="6.15"/><circle cx="288.24" cy="499.6" r="6.15"/><circle cx="286.17" cy="509.53" r="6.15"/><circle cx="283.51" cy="519.46" r="6.15"/><circle cx="281.42" cy="529.39" r="6.15"/><circle cx="280.26" cy="539.33" r="6.15"/><circle cx="278.69" cy="549.26" r="6.15"/><circle cx="276.68" cy="559.19" r="6.15"/><circle cx="274.5" cy="569.12" r="6.15"/><circle cx="272.43" cy="579.05" r="6.15"/><circle cx="271.33" cy="588.98" r="6.15"/><circle cx="269.3" cy="598.91" r="6.15"/><circle cx="268.17" cy="608.85" r="6.15"/><circle cx="266.62" cy="618.78" r="6.15"/><circle cx="265.04" cy="628.71" r="6.15"/><circle cx="264" cy="638.64" r="6.15"/><circle cx="261.93" cy="648.57" r="6.15"/><circle cx="260.81" cy="658.5" r="6.15"/><circle cx="259.69" cy="668.44" r="6.15"/><circle cx="258.65" cy="678.37" r="6.15"/><circle cx="257.5" cy="688.3" r="6.15"/><circle cx="255.93" cy="698.23" r="6.15"/><circle cx="254.76" cy="708.16" r="6.15"/><circle cx="253.37" cy="718.09" r="6.15"/><circle cx="251.71" cy="728.03" r="6.15"/><circle cx="250.07" cy="737.96" r="6.15"/><circle cx="248.99" cy="747.89" r="6.15"/><circle cx="247.91" cy="757.82" r="6.15"/><circle cx="246.87" cy="767.75" r="6.15"/><circle cx="245.54" cy="777.68" r="6.15"/><circle cx="244.27" cy="787.62" r="6.15"/><circle cx="243.27" cy="797.55" r="6.15"/><circle cx="241.65" cy="807.48" r="6.15"/></g>
<path d="M482 19.1 L481.5 23.08 L478.5 27.06 L476.8 31.04 L476.3 35.02 L476 39.01 L475.6 42.99 L475.5 48.96 L475.35 58.91 L474.4 68.86 L473.3 78.81 L471.7 88.77 L469.6 98.72 L465.2 108.67 L456.7 118.62 L442.4 138.53 L427.5 158.44 L415.3 178.34 L407.8 198.24 L404.7 218.15 L384.5 267.91 L362.7 317.68 L318.1 417.2 L296.8 516.73 L279.8 616.25 L262.8 715.77 L244.2 815.3" fill="none" stroke="#008000" stroke-width="2.6" stroke-linejoin="round"/>
<g fill="#008000"><circle cx="482" cy="19.1" r="6.15"/><circle cx="481.5" cy="23.08" r="6.15"/><circle cx="478.5" cy="27.06" r="6.15"/><circle cx="476.8" cy="31.04" r="6.15"/><circle cx="476.3" cy="35.02" r="6.15"/><circle cx="476" cy="39.01" r="6.15"/><circle cx="475.6" cy="42.99" r="6.15"/><circle cx="475.5" cy="48.96" r="6.15"/><circle cx="475.35" cy="58.91" r="6.15"/><circle cx="474.4" cy="68.86" r="6.15"/><circle cx="473.3" cy="78.81" r="6.15"/><circle cx="471.7" cy="88.77" r="6.15"/><circle cx="469.6" cy="98.72" r="6.15"/><circle cx="465.2" cy="108.67" r="6.15"/><circle cx="456.7" cy="118.62" r="6.15"/><circle cx="442.4" cy="138.53" r="6.15"/><circle cx="427.5" cy="158.44" r="6.15"/><circle cx="415.3" cy="178.34" r="6.15"/><circle cx="407.8" cy="198.24" r="6.15"/><circle cx="404.7" cy="218.15" r="6.15"/><circle cx="384.5" cy="267.91" r="6.15"/><circle cx="362.7" cy="317.68" r="6.15"/><circle cx="318.1" cy="417.2" r="6.15"/><circle cx="296.8" cy="516.73" r="6.15"/><circle cx="279.8" cy="616.25" r="6.15"/><circle cx="262.8" cy="715.77" r="6.15"/><circle cx="244.2" cy="815.3" r="6.15"/></g>
<path d="M473.65 20.08 L473.65 22.17 L473.6 24.37 L473.5 26.7 L473.4 29.21 L473.3 31.92 L473.2 34.88 L473 38.16 L472.8 41.8 L472.6 45.91 L472.3 50.57 L472 55.92 L471.6 62.09 L471 69.28 L470.1 77.71 L468.9 87.64 L465.2 99.4 L457.2 113.4 L447.7 130.1 L433.3 150.09 L418.5 174.07 L399.4 202.87 L382.4 237.52 L365.4 279.19 L345.2 329.32 L325.6 389.58 L308.6 461.94 L289.9 548.65 L270.8 652.33 L249.5 775.91 L232 922.66" fill="none" stroke="#f0f" stroke-width="2.6" stroke-linejoin="round"/>
<g fill="#f0f"><circle cx="473.65" cy="20.08" r="6.15"/><circle cx="473.65" cy="22.17" r="6.15"/><circle cx="473.6" cy="24.37" r="6.15"/><circle cx="473.5" cy="26.7" r="6.15"/><circle cx="473.4" cy="29.21" r="6.15"/><circle cx="473.3" cy="31.92" r="6.15"/><circle cx="473.2" cy="34.88" r="6.15"/><circle cx="473" cy="38.16" r="6.15"/><circle cx="472.8" cy="41.8" r="6.15"/><circle cx="472.6" cy="45.91" r="6.15"/><circle cx="472.3" cy="50.57" r="6.15"/><circle cx="472" cy="55.92" r="6.15"/><circle cx="471.6" cy="62.09" r="6.15"/><circle cx="471" cy="69.28" r="6.15"/><circle cx="470.1" cy="77.71" r="6.15"/><circle cx="468.9" cy="87.64" r="6.15"/><circle cx="465.2" cy="99.4" r="6.15"/><circle cx="457.2" cy="113.4" r="6.15"/><circle cx="447.7" cy="130.1" r="6.15"/><circle cx="433.3" cy="150.09" r="6.15"/><circle cx="418.5" cy="174.07" r="6.15"/><circle cx="399.4" cy="202.87" r="6.15"/><circle cx="382.4" cy="237.52" r="6.15"/><circle cx="365.4" cy="279.19" r="6.15"/><circle cx="345.2" cy="329.32" r="6.15"/><circle cx="325.6" cy="389.58" r="6.15"/><circle cx="308.6" cy="461.94" r="6.15"/><circle cx="289.9" cy="548.65" r="6.15"/><circle cx="270.8" cy="652.33" r="6.15"/><circle cx="249.5" cy="775.91" r="6.15"/><circle cx="232" cy="922.66" r="6.15"/></g>
</g>
<rect class="sp" x="88.5" y="19.5" width="401" height="795"/>
<path class="t" d="M91.5 814.5 v6.4 M176.5 814.5 v6.4 M260.5 814.5 v6.4 M345.5 814.5 v6.4 M430.5 814.5 v6.4 M88.5 19.5 h-6.4 M88.5 68.5 h-6.4 M88.5 118.5 h-6.4 M88.5 168.5 h-6.4 M88.5 218.5 h-6.4 M88.5 267.5 h-6.4 M88.5 317.5 h-6.4 M88.5 367.5 h-6.4 M88.5 417.5 h-6.4 M88.5 466.5 h-6.4 M88.5 516.5 h-6.4 M88.5 566.5 h-6.4 M88.5 616.5 h-6.4 M88.5 666.5 h-6.4 M88.5 715.5 h-6.4 M88.5 765.5 h-6.4"/>
<g class="tk" text-anchor="middle">
<text transform="translate(91.5 841.9) scale(1 1.07)">5</text>
<text transform="translate(176.5 841.9) scale(1 1.07)">10</text>
<text transform="translate(260.5 841.9) scale(1 1.07)">15</text>
<text transform="translate(345.5 841.9) scale(1 1.07)">20</text>
<text transform="translate(430.5 841.9) scale(1 1.07)">25</text>
</g>
<g class="tk" text-anchor="end">
<text transform="translate(75.2 27.05) scale(1 1.07)">0</text>
<text transform="translate(75.2 76.05) scale(1 1.07)">25</text>
<text transform="translate(75.2 126.05) scale(1 1.07)">50</text>
<text transform="translate(75.2 176.05) scale(1 1.07)">75</text>
<text transform="translate(75.2 226.05) scale(1 1.07)">100</text>
<text transform="translate(75.2 275.05) scale(1 1.07)">125</text>
<text transform="translate(75.2 325.05) scale(1 1.07)">150</text>
<text transform="translate(75.2 375.05) scale(1 1.07)">175</text>
<text transform="translate(75.2 425.05) scale(1 1.07)">200</text>
<text transform="translate(75.2 474.05) scale(1 1.07)">225</text>
<text transform="translate(75.2 524.05) scale(1 1.07)">250</text>
<text transform="translate(75.2 574.05) scale(1 1.07)">275</text>
<text transform="translate(75.2 624.05) scale(1 1.07)">300</text>
<text transform="translate(75.2 674.05) scale(1 1.07)">325</text>
<text transform="translate(75.2 723.05) scale(1 1.07)">350</text>
<text transform="translate(75.2 773.05) scale(1 1.07)">375</text>
</g>
</g>
<g id="panel2">
<clipPath id="c2"><rect x="580.5" y="19.5" width="402" height="795"/></clipPath>
<path class="g" d="M624.5 814.5 V19.5 M709.5 814.5 V19.5 M793.5 814.5 V19.5 M877.5 814.5 V19.5 M961.5 814.5 V19.5 M580.5 19.5 H982.5 M580.5 68.5 H982.5 M580.5 118.5 H982.5 M580.5 168.5 H982.5 M580.5 218.5 H982.5 M580.5 267.5 H982.5 M580.5 317.5 H982.5 M580.5 367.5 H982.5 M580.5 417.5 H982.5 M580.5 466.5 H982.5 M580.5 516.5 H982.5 M580.5 566.5 H982.5 M580.5 616.5 H982.5 M580.5 666.5 H982.5 M580.5 715.5 H982.5 M580.5 765.5 H982.5"/>
<g clip-path="url(#c2)">
<path d="M820.9 17.1 L820.9 19.1 L820.91 21.1 L820.92 23.1 L820.93 25.1 L820.94 27.1 L820.95 29.1 L820.96 31.1 L820.97 33.1 L820.98 35.1 L820.99 37.1 L821 39.1 L821.01 41.1 L821.02 43.1 L821.03 45.1 L821.04 47.1 L821.05 49.1 L821.06 51.1 L821.07 53.1 L821.08 55.1 L821.09 57.1 L821.1 59.1 L821.26 61.1 L821.57 63.1 L821.87 65.1 L822.17 67.1 L822.47 69.1 L823.15 71.1 L824.15 73.1 L825.15 75.1 L826.15 77.1 L826.93 79.1 L827.53 81.1 L828.13 83.1 L828.67 85.1 L828.06 87.1 L827.46 89.1 L826.86 91.1 L826.26 93.1 L826.28 95.1 L827.12 97.1 L827.96 99.1 L828.8 101.1 L830.26 103.1 L832.63 105.1 L834.81 107.1 L836.99 109.1 L839.17 111.1 L841.23 113.1 L843.08 115.1 L844.75 117.1 L846.42 119.1 L848.08 121.1 L849.73 123.1 L851.39 125.1 L853.61 127.1 L855.84 129.1 L858.07 131.1 L860.07 133.1 L861.93 135.1 L865.31 137.1 L868.69 139.1 L872.07 141.1 L875.58 143.1 L879.19 145.1 L882.03 147.1 L884.88 149.1 L887.72 151.1 L889.94 153.1 L891.65 155.1 L893.16 157.1 L894.67 159.1 L896.18 161.1 L897.45 163.1 L898.57 165.1 L900.07 167.1 L901.57 169.1 L903.07 171.1 L904.45 173.1 L905.77 175.1 L907.28 177.1 L908.79 179.1 L910.29 181.1 L911.92 183.1 L913.58 185.1 L914.8 187.1 L916.02 189.1 L917.07 191.1 L917.6 193.1 L918.14 195.1 L918.68 197.1 L919.21 199.1 L919.57 201.1 L919.77 203.1 L919.97 205.1 L920.17 207.1 L920.38 209.1 L920.58 211.1 L920.89 213.1 L921.2 215.1 L921.52 217.1 L921.84 219.1 L922.15 221.1 L922.39 223.1 L922.62 225.1 L922.85 227.1 L923.08 229.1 L923.31 231.1 L923.48 233.1 L923.64 235.1 L923.81 237.1 L923.98 239.1 L924.14 241.1 L924.31 243.1 L924.57 245.1 L924.82 247.1 L925.07 249.1 L925.24 251.1 L925.33 253.1 L925.41 255.1 L925.49 257.1 L925.58 259.1 L925.66 261.1 L925.68 263.1 L925.65 265.1 L925.62 267.1 L925.59 269.1 L925.5 271.1 L925.37 273.1 L925.23 275.1 L925.1 277.1 L924.97 279.1 L924.76 281.1 L924.33 283.1 L923.89 285.1 L923.46 287.1 L923.03 289.1 L922.62 291.1 L922.23 293.1 L921.83 295.1 L921.43 297.1 L921.04 299.1 L920.61 301.1 L920.05 303.1 L919.48 305.1 L918.91 307.1 L918.34 309.1 L917.76 311.1 L917.16 313.1 L916.56 315.1 L915.97 317.1 L915.37 319.1 L914.76 321.1 L913.97 323.1 L913.18 325.1 L912.38 327.1 L911.59 329.1 L910.8 331.1 L909.76 333.1 L908.65 335.1 L907.53 337.1 L906.42 339.1 L905.16 341.1 L903.7 343.1 L902.25 345.1 L900.79 347.1 L899.33 349.1 L897.87 351.1 L896.19 353.1 L894.28 355.1 L892.37 357.1 L890.47 359.1 L888.36 361.1 L886.48 363.1 L884.98 365.1 L883.48 367.1 L881.98 369.1 L880.75 371.1 L879.79 373.1 L878.84 375.1 L877.88 377.1 L876.93 379.1 L875.99 381.1 L875.04 383.1 L874.09 385.1 L873.14 387.1 L872.19 389.1 L871.17 391.1 L870.12 393.1 L869.07 395.1 L868.02 397.1 L866.97 399.1 L865.98 401.1 L865.03 403.1 L864.08 405.1 L863.13 407.1 L862.18 409.1 L861.24 411.1 L860.31 413.1 L859.38 415.1 L858.45 417.1 L857.52 419.1 L856.54 421.1 L855.51 423.1 L854.49 425.1 L853.46 427.1 L852.44 429.1 L851.46 431.1 L850.54 433.1 L849.61 435.1 L848.69 437.1 L847.76 439.1 L846.79 441.1 L845.75 443.1 L844.72 445.1 L843.68 447.1 L842.65 449.1 L841.83 451.1 L841.28 453.1 L840.73 455.1 L840.17 457.1 L839.62 459.1 L838.98 461.1 L838.06 463.1 L837.14 465.1 L836.23 467.1 L835.31 469.1 L834.38 471.1 L833.45 473.1 L832.51 475.1 L831.58 477.1 L830.64 479.1 L829.81 481.1 L829.01 483.1 L828.22 485.1 L827.42 487.1 L826.62 489.1 L825.85 491.1 L825.07 493.1 L824.3 495.1 L823.52 497.1 L822.74 499.1 L822.1 501.1 L821.49 503.1 L820.87 505.1 L820.25 507.1 L819.64 509.1 L818.84 511.1 L817.99 513.1 L817.15 515.1 L816.31 517.1 L815.46 519.1 L814.71 521.1 L813.97 523.1 L813.23 525.1 L812.49 527.1 L811.75 529.1 L811.11 531.1 L810.5 533.1 L809.89 535.1 L809.28 537.1 L808.67 539.1 L808.1 541.1 L807.54 543.1 L806.97 545.1 L806.41 547.1 L805.84 549.1 L804.93 551.1 L803.85 553.1 L802.76 555.1 L801.68 557.1 L800.59 559.1 L799.77 561.1 L799.03 563.1 L798.29 565.1 L797.9 567.1 L797.81 569.1 L797.62 571.1 L797.38 573.1 L797.13 575.1 L796.89 577.1 L796.65 579.1 L796.44 581.1 L796.08 583.1 L795.6 585.1 L795.12 587.1 L794.64 589.1 L794.42 591.1 L794.26 593.1 L794.1 595.1 L793.93 597.1 L793.77 599.1 L793.42 601.1 L793.02 603.1 L792.4 605.1 L791.78 607.1 L791.16 609.1 L790.5 611.1 L789.84 613.1 L789.17 615.1 L788.51 617.1 L787.84 619.1 L787.38 621.1 L786.93 623.1 L786.47 625.1 L786.14 627.1 L785.81 629.1 L785.44 631.1 L785.06 633.1 L784.68 635.1 L784.31 637.1 L783.93 639.1 L783.4 641.1 L782.83 643.1 L782.25 645.1 L781.68 647.1 L781.11 649.1 L780.75 651.1 L780.46 653.1 L780.17 655.1 L779.88 657.1 L779.6 659.1 L779.31 661.1 L779.01 663.1 L778.71 665.1 L778.41 667.1 L778.11 669.1 L777.7 671.1 L777.28 673.1 L776.86 675.1 L776.44 677.1 L776.02 679.1 L775.71 681.1 L775.41 683.1 L775.11 685.1 L774.81 687.1 L774.51 689.1 L774.19 691.1 L773.88 693.1 L773.56 695.1 L773.24 697.1 L772.9 699.1 L772.48 701.1 L772.06 703.1 L771.64 705.1 L771.22 707.1 L770.75 709.1 L770.11 711.1 L769.47 713.1 L768.84 715.1 L768.2 717.1 L767.62 719.1 L767.1 721.1 L766.59 723.1 L766.09 725.1 L765.58 727.1 L765.15 729.1 L764.82 731.1 L764.48 733.1 L764.14 735.1 L763.8 737.1 L763.48 739.1 L763.14 741.1 L762.78 743.1 L762.42 745.1 L762.06 747.1 L761.71 749.1 L761.37 751.1 L761.02 753.1 L760.68 755.1 L760.34 757.1 L760.08 759.1 L759.87 761.1 L759.66 763.1 L759.45 765.1 L759.24 767.1 L758.88 769.1 L758.49 771.1 L758.09 773.1 L757.69 775.1 L757.3 777.1 L756.98 779.1 L756.75 781.1 L756.52 783.1 L756.29 785.1 L756.06 787.1 L755.48 789.1 L754.79 791.1 L754.1 793.1 L753.41 795.1 L752.71 797.1 L752.17 799.1 L751.83 801.1 L751.49 803.1 L751.15 805.1 L750.82 807.1 L750.5 809.1 L750.18 811.1 L749.87 813.1 L749.55 815.1 L749.24 817.1 L760.64 817.1 L761.02 815.1 L761.4 813.1 L761.78 811.1 L762.16 809.1 L762.55 807.1 L762.95 805.1 L763.35 803.1 L763.76 801.1 L764.16 799.1 L764.78 797.1 L765.54 795.1 L766.29 793.1 L767.05 791.1 L767.78 789.1 L768.36 787.1 L768.59 785.1 L768.82 783.1 L769.05 781.1 L769.28 779.1 L769.6 777.1 L769.99 775.1 L770.39 773.1 L770.79 771.1 L771.18 769.1 L771.54 767.1 L771.75 765.1 L771.96 763.1 L772.17 761.1 L772.38 759.1 L772.64 757.1 L772.98 755.1 L773.32 753.1 L773.67 751.1 L774.01 749.1 L774.36 747.1 L774.72 745.1 L775.08 743.1 L775.44 741.1 L775.73 739.1 L775.96 737.1 L776.19 735.1 L776.43 733.1 L776.67 731.1 L776.91 729.1 L777.24 727.1 L777.64 725.1 L778.05 723.1 L778.45 721.1 L778.92 719.1 L779.53 717.1 L780.18 715.1 L780.83 713.1 L781.48 711.1 L782.14 709.1 L782.63 707.1 L783.06 705.1 L783.5 703.1 L783.93 701.1 L784.37 699.1 L784.73 697.1 L785.07 695.1 L785.4 693.1 L785.73 691.1 L786.07 689.1 L786.38 687.1 L786.7 685.1 L787.02 683.1 L787.33 681.1 L787.67 679.1 L788.1 677.1 L788.54 675.1 L788.97 673.1 L789.41 671.1 L789.83 669.1 L790.15 667.1 L790.47 665.1 L790.78 663.1 L791.1 661.1 L791.45 659.1 L791.85 657.1 L792.25 655.1 L792.65 653.1 L793.06 651.1 L793.53 649.1 L794.22 647.1 L794.91 645.1 L795.59 643.1 L796.28 641.1 L796.92 639.1 L797.41 637.1 L797.91 635.1 L798.4 633.1 L798.89 631.1 L799.38 629.1 L799.82 627.1 L800.27 625.1 L800.63 623.1 L800.99 621.1 L801.35 619.1 L801.91 617.1 L802.48 615.1 L803.04 613.1 L803.61 611.1 L804.16 609.1 L804.69 607.1 L805.21 605.1 L805.73 603.1 L806.4 601.1 L807.04 599.1 L807.5 597.1 L807.96 595.1 L808.42 593.1 L808.88 591.1 L809.39 589.1 L810.16 587.1 L810.94 585.1 L811.72 583.1 L812.51 581.1 L813.34 579.1 L814.19 577.1 L815.05 575.1 L815.9 573.1 L816.76 571.1 L817.56 569.1 L818.27 567.1 L818.86 565.1 L819.31 563.1 L819.76 561.1 L820.3 559.1 L821.1 557.1 L821.89 555.1 L822.69 553.1 L823.49 551.1 L824.19 549.1 L824.65 547.1 L825.11 545.1 L825.57 543.1 L826.03 541.1 L826.49 539.1 L826.99 537.1 L827.49 535.1 L828 533.1 L828.5 531.1 L829.04 529.1 L829.67 527.1 L830.3 525.1 L830.94 523.1 L831.57 521.1 L832.27 519.1 L833.13 517.1 L833.99 515.1 L834.85 513.1 L835.71 511.1 L836.53 509.1 L837.16 507.1 L837.79 505.1 L838.43 503.1 L839.06 501.1 L839.72 499.1 L840.51 497.1 L841.3 495.1 L842.1 493.1 L842.89 491.1 L843.68 489.1 L844.49 487.1 L845.31 485.1 L846.12 483.1 L846.93 481.1 L847.79 479.1 L848.74 477.1 L849.69 475.1 L850.64 473.1 L851.59 471.1 L852.53 469.1 L853.47 467.1 L854.4 465.1 L855.33 463.1 L856.27 461.1 L856.91 459.1 L857.44 457.1 L857.96 455.1 L858.49 453.1 L859.02 451.1 L859.81 449.1 L860.82 447.1 L861.83 445.1 L862.84 443.1 L863.85 441.1 L864.8 439.1 L865.7 437.1 L866.6 435.1 L867.5 433.1 L868.4 431.1 L869.35 429.1 L870.35 427.1 L871.35 425.1 L872.35 423.1 L873.35 421.1 L874.31 419.1 L875.21 417.1 L876.12 415.1 L877.02 413.1 L877.93 411.1 L878.84 409.1 L879.77 407.1 L880.69 405.1 L881.62 403.1 L882.55 401.1 L883.51 399.1 L884.53 397.1 L885.56 395.1 L886.58 393.1 L887.6 391.1 L888.6 389.1 L889.52 387.1 L890.45 385.1 L891.38 383.1 L892.3 381.1 L893.28 379.1 L894.34 377.1 L895.41 375.1 L896.48 373.1 L897.54 371.1 L898.88 369.1 L900.49 367.1 L902.1 365.1 L903.71 363.1 L905.34 361.1 L906.75 359.1 L907.96 357.1 L909.16 355.1 L910.37 353.1 L911.56 351.1 L912.77 349.1 L913.98 347.1 L915.18 345.1 L916.39 343.1 L917.6 341.1 L918.72 339.1 L919.83 337.1 L920.95 335.1 L922.06 333.1 L923.1 331.1 L923.89 329.1 L924.68 327.1 L925.48 325.1 L926.27 323.1 L927.06 321.1 L927.67 319.1 L928.27 317.1 L928.86 315.1 L929.46 313.1 L930.06 311.1 L930.6 309.1 L931.06 307.1 L931.53 305.1 L932 303.1 L932.47 301.1 L932.79 299.1 L933.09 297.1 L933.38 295.1 L933.68 293.1 L933.98 291.1 L934.17 289.1 L934.25 287.1 L934.34 285.1 L934.42 283.1 L934.5 281.1 L934.36 279.1 L934.14 277.1 L933.93 275.1 L933.71 273.1 L933.49 271.1 L933.39 269.1 L933.42 267.1 L933.45 265.1 L933.48 263.1 L933.46 261.1 L933.38 259.1 L933.29 257.1 L933.21 255.1 L933.13 253.1 L933.04 251.1 L932.87 249.1 L932.62 247.1 L932.37 245.1 L932.11 243.1 L931.94 241.1 L931.77 239.1 L931.61 237.1 L931.44 235.1 L931.27 233.1 L931.11 231.1 L930.88 229.1 L930.65 227.1 L930.42 225.1 L930.19 223.1 L929.95 221.1 L929.64 219.1 L929.32 217.1 L929 215.1 L928.69 213.1 L928.38 211.1 L928.18 209.1 L927.97 207.1 L927.77 205.1 L927.57 203.1 L927.37 201.1 L927.37 199.1 L927.64 197.1 L927.9 195.1 L928.16 193.1 L928.43 191.1 L928.18 189.1 L927.76 187.1 L927.34 185.1 L927.05 183.1 L926.82 181.1 L926.72 179.1 L926.61 177.1 L926.5 175.1 L926.39 173.1 L926.21 171.1 L925.91 169.1 L925.61 167.1 L925.31 165.1 L924.63 163.1 L923.76 161.1 L922.65 159.1 L921.54 157.1 L920.43 155.1 L919.12 153.1 L917.3 151.1 L914.86 149.1 L912.41 147.1 L909.97 145.1 L907.14 143.1 L904.43 141.1 L901.85 139.1 L899.27 137.1 L896.69 135.1 L894.11 133.1 L891.31 131.1 L888.28 129.1 L885.25 127.1 L882.23 125.1 L879.2 123.1 L876.15 121.1 L873.09 119.1 L870.02 117.1 L866.95 115.1 L863.89 113.1 L860.63 111.1 L857.25 109.1 L853.87 107.1 L850.49 105.1 L847.11 103.1 L844.65 101.1 L842.81 99.1 L840.97 97.1 L839.13 95.1 L837.54 93.1 L836.54 91.1 L835.54 89.1 L834.54 87.1 L833.55 85.1 L832.93 83.1 L832.33 81.1 L831.73 79.1 L830.95 77.1 L829.95 75.1 L828.95 73.1 L827.95 71.1 L827.26 69.1 L826.97 67.1 L826.66 65.1 L826.37 63.1 L826.06 61.1 L825.9 59.1 L825.89 57.1 L825.88 55.1 L825.87 53.1 L825.86 51.1 L825.85 49.1 L825.84 47.1 L825.83 45.1 L825.82 43.1 L825.81 41.1 L825.8 39.1 L825.79 37.1 L825.78 35.1 L825.77 33.1 L825.76 31.1 L825.75 29.1 L825.74 27.1 L825.73 25.1 L825.72 23.1 L825.71 21.1 L825.7 19.1 L825.7 17.1Z" fill="#0ff" stroke="#0ff" stroke-width="1" stroke-linejoin="round"/>
<path d="M822 17.1 L822 19.1 L822.01 21.1 L822.02 23.1 L822.03 25.1 L822.04 27.1 L822.05 29.1 L822.06 31.1 L822.07 33.1 L822.08 35.1 L822.09 37.1 L822.1 39.1 L822.11 41.1 L822.12 43.1 L822.13 45.1 L822.14 47.1 L822.15 49.1 L822.16 51.1 L822.17 53.1 L822.18 55.1 L822.19 57.1 L822.2 59.1 L822.37 61.1 L822.67 63.1 L822.97 65.1 L823.27 67.1 L823.57 69.1 L824.25 71.1 L825.25 73.1 L826.25 75.1 L827.25 77.1 L828.03 79.1 L828.63 81.1 L829.23 83.1 L829.77 85.1 L829.16 87.1 L828.56 89.1 L827.96 91.1 L827.36 93.1 L827.38 95.1 L828.22 97.1 L829.06 99.1 L829.9 101.1 L831.36 103.1 L833.73 105.1 L835.91 107.1 L838.09 109.1 L840.27 111.1 L842.33 113.1 L844.18 115.1 L845.85 117.1 L847.52 119.1 L849.18 121.1 L850.83 123.1 L852.49 125.1 L854.71 127.1 L856.94 129.1 L859.17 131.1 L861.17 133.1 L863.03 135.1 L866.41 137.1 L869.79 139.1 L873.17 141.1 L876.68 143.1 L880.29 145.1 L883.13 147.1 L885.98 149.1 L888.82 151.1 L891.04 153.1 L892.75 155.1 L894.26 157.1 L895.77 159.1 L897.28 161.1 L898.55 163.1 L899.67 165.1 L901.17 167.1 L902.67 169.1 L904.17 171.1 L905.55 173.1 L906.87 175.1 L908.38 177.1 L909.89 179.1 L911.39 181.1 L913.02 183.1 L914.68 185.1 L915.9 187.1 L917.12 189.1 L918.17 191.1 L918.7 193.1 L919.24 195.1 L919.78 197.1 L920.31 199.1 L920.67 201.1 L920.87 203.1 L921.07 205.1 L921.27 207.1 L921.48 209.1 L921.68 211.1 L921.99 213.1 L922.3 215.1 L922.62 217.1 L922.94 219.1 L923.25 221.1 L923.49 223.1 L923.72 225.1 L923.95 227.1 L924.18 229.1 L924.41 231.1 L924.58 233.1 L924.74 235.1 L924.91 237.1 L925.08 239.1 L925.24 241.1 L925.41 243.1 L925.67 245.1 L925.92 247.1 L926.17 249.1 L926.34 251.1 L926.43 253.1 L926.51 255.1 L926.59 257.1 L926.68 259.1 L926.76 261.1 L926.78 263.1 L926.75 265.1 L926.72 267.1 L926.69 269.1 L926.6 271.1 L926.47 273.1 L926.33 275.1 L926.2 277.1 L926.07 279.1 L925.86 281.1 L925.43 283.1 L925 285.1 L924.56 287.1 L924.13 289.1 L923.72 291.1 L923.33 293.1 L922.93 295.1 L922.53 297.1 L922.14 299.1 L921.71 301.1 L921.15 303.1 L920.58 305.1 L920.01 307.1 L919.44 309.1 L918.86 311.1 L918.26 313.1 L917.66 315.1 L917.07 317.1 L916.47 319.1 L915.86 321.1 L915.07 323.1 L914.28 325.1 L913.48 327.1 L912.69 329.1 L911.9 331.1 L910.86 333.1 L909.75 335.1 L908.63 337.1 L907.52 339.1 L906.26 341.1 L904.8 343.1 L903.35 345.1 L901.89 347.1 L900.43 349.1 L898.97 351.1 L897.29 353.1 L895.38 355.1 L893.47 357.1 L891.57 359.1 L889.46 361.1 L887.58 363.1 L886.08 365.1 L884.58 367.1 L883.08 369.1 L881.85 371.1 L880.89 373.1 L879.94 375.1 L878.98 377.1 L878.03 379.1 L877.09 381.1 L876.14 383.1 L875.19 385.1 L874.24 387.1 L873.29 389.1 L872.27 391.1 L871.22 393.1 L870.17 395.1 L869.12 397.1 L868.07 399.1 L867.08 401.1 L866.13 403.1 L865.18 405.1 L864.23 407.1 L863.28 409.1 L862.34 411.1 L861.41 413.1 L860.48 415.1 L859.55 417.1 L858.62 419.1 L857.64 421.1 L856.61 423.1 L855.59 425.1 L854.56 427.1 L853.54 429.1 L852.56 431.1 L851.64 433.1 L850.71 435.1 L849.79 437.1 L848.86 439.1 L847.89 441.1 L846.85 443.1 L845.82 445.1 L844.78 447.1 L843.75 449.1 L842.93 451.1 L842.38 453.1 L841.83 455.1 L841.27 457.1 L840.72 459.1 L840.08 461.1 L839.16 463.1 L838.24 465.1 L837.33 467.1 L836.41 469.1 L835.48 471.1 L834.55 473.1 L833.61 475.1 L832.68 477.1 L831.74 479.1 L830.91 481.1 L830.11 483.1 L829.32 485.1 L828.52 487.1 L827.72 489.1 L826.95 491.1 L826.17 493.1 L825.4 495.1 L824.62 497.1 L823.84 499.1 L823.2 501.1 L822.59 503.1 L821.97 505.1 L821.35 507.1 L820.74 509.1 L819.94 511.1 L819.09 513.1 L818.25 515.1 L817.41 517.1 L816.56 519.1 L815.81 521.1 L815.07 523.1 L814.33 525.1 L813.59 527.1 L812.85 529.1 L812.21 531.1 L811.6 533.1 L810.99 535.1 L810.38 537.1 L809.77 539.1 L809.2 541.1 L808.64 543.1 L808.07 545.1 L807.51 547.1 L806.94 549.1 L806.03 551.1 L804.95 553.1 L803.86 555.1 L802.78 557.1 L801.69 559.1 L800.87 561.1 L800.13 563.1 L799.39 565.1 L799 567.1 L798.91 569.1 L798.72 571.1 L798.48 573.1 L798.23 575.1 L797.99 577.1 L797.75 579.1 L797.54 581.1 L797.18 583.1 L796.7 585.1 L796.22 587.1 L795.74 589.1 L795.52 591.1 L795.36 593.1 L795.2 595.1 L795.03 597.1 L794.87 599.1 L794.52 601.1 L794.12 603.1 L793.5 605.1 L792.88 607.1 L792.26 609.1 L791.6 611.1 L790.94 613.1 L790.27 615.1 L789.61 617.1 L788.94 619.1 L788.48 621.1 L788.03 623.1 L787.57 625.1 L787.24 627.1 L786.91 629.1 L786.54 631.1 L786.16 633.1 L785.78 635.1 L785.41 637.1 L785.03 639.1 L784.5 641.1 L783.93 643.1 L783.35 645.1 L782.78 647.1 L782.21 649.1 L781.85 651.1 L781.56 653.1 L781.27 655.1 L780.98 657.1 L780.7 659.1 L780.41 661.1 L780.11 663.1 L779.81 665.1 L779.51 667.1 L779.21 669.1 L778.8 671.1 L778.38 673.1 L777.96 675.1 L777.54 677.1 L777.12 679.1 L776.81 681.1 L776.51 683.1 L776.21 685.1 L775.91 687.1 L775.61 689.1 L775.29 691.1 L774.98 693.1 L774.66 695.1 L774.34 697.1 L774 699.1 L773.58 701.1 L773.16 703.1 L772.74 705.1 L772.32 707.1 L771.85 709.1 L771.21 711.1 L770.57 713.1 L769.94 715.1 L769.3 717.1 L768.72 719.1 L768.2 721.1 L767.69 723.1 L767.19 725.1 L766.68 727.1 L766.25 729.1 L765.92 731.1 L765.58 733.1 L765.24 735.1 L764.9 737.1 L764.58 739.1 L764.24 741.1 L763.88 743.1 L763.52 745.1 L763.16 747.1 L762.81 749.1 L762.47 751.1 L762.12 753.1 L761.78 755.1 L761.44 757.1 L761.18 759.1 L760.97 761.1 L760.76 763.1 L760.55 765.1 L760.34 767.1 L759.98 769.1 L759.59 771.1 L759.19 773.1 L758.79 775.1 L758.4 777.1 L758.08 779.1 L757.85 781.1 L757.62 783.1 L757.39 785.1 L757.16 787.1 L756.58 789.1 L755.89 791.1 L755.2 793.1 L754.51 795.1 L753.81 797.1 L753.27 799.1 L752.93 801.1 L752.59 803.1 L752.25 805.1 L751.92 807.1 L751.6 809.1 L751.28 811.1 L750.97 813.1 L750.65 815.1 L750.34 817.1" fill="none" stroke="#0ff" stroke-width="5.4" stroke-linecap="round" stroke-dasharray="0 5.3"/>
<path d="M824.6 17.1 L824.6 19.1 L824.61 21.1 L824.62 23.1 L824.63 25.1 L824.64 27.1 L824.65 29.1 L824.66 31.1 L824.67 33.1 L824.68 35.1 L824.69 37.1 L824.7 39.1 L824.71 41.1 L824.72 43.1 L824.73 45.1 L824.74 47.1 L824.75 49.1 L824.76 51.1 L824.77 53.1 L824.78 55.1 L824.79 57.1 L824.8 59.1 L824.96 61.1 L825.26 63.1 L825.56 65.1 L825.87 67.1 L826.16 69.1 L826.85 71.1 L827.85 73.1 L828.85 75.1 L829.85 77.1 L830.63 79.1 L831.23 81.1 L831.83 83.1 L832.45 85.1 L833.44 87.1 L834.44 89.1 L835.44 91.1 L836.44 93.1 L838.03 95.1 L839.87 97.1 L841.71 99.1 L843.55 101.1 L846.01 103.1 L849.39 105.1 L852.77 107.1 L856.15 109.1 L859.53 111.1 L862.79 113.1 L865.85 115.1 L868.92 117.1 L871.99 119.1 L875.05 121.1 L878.1 123.1 L881.13 125.1 L884.15 127.1 L887.18 129.1 L890.21 131.1 L893.01 133.1 L895.59 135.1 L898.17 137.1 L900.75 139.1 L903.33 141.1 L906.04 143.1 L908.87 145.1 L911.31 147.1 L913.76 149.1 L916.2 151.1 L918.02 153.1 L919.33 155.1 L920.44 157.1 L921.55 159.1 L922.66 161.1 L923.53 163.1 L924.21 165.1 L924.51 167.1 L924.81 169.1 L925.11 171.1 L925.29 173.1 L925.4 175.1 L925.51 177.1 L925.62 179.1 L925.72 181.1 L925.95 183.1 L926.24 185.1 L926.66 187.1 L927.08 189.1 L927.33 191.1 L927.06 193.1 L926.8 195.1 L926.54 197.1 L926.27 199.1 L926.27 201.1 L926.47 203.1 L926.67 205.1 L926.87 207.1 L927.08 209.1 L927.28 211.1 L927.59 213.1 L927.9 215.1 L928.22 217.1 L928.54 219.1 L928.85 221.1 L929.09 223.1 L929.32 225.1 L929.55 227.1 L929.78 229.1 L930.01 231.1 L930.17 233.1 L930.34 235.1 L930.51 237.1 L930.67 239.1 L930.84 241.1 L931.01 243.1 L931.27 245.1 L931.52 247.1 L931.77 249.1 L931.94 251.1 L932.03 253.1 L932.11 255.1 L932.19 257.1 L932.28 259.1 L932.36 261.1 L932.38 263.1 L932.35 265.1 L932.32 267.1 L932.29 269.1 L932.39 271.1 L932.61 273.1 L932.83 275.1 L933.04 277.1 L933.26 279.1 L933.4 281.1 L933.32 283.1 L933.24 285.1 L933.15 287.1 L933.07 289.1 L932.88 291.1 L932.58 293.1 L932.28 295.1 L931.99 297.1 L931.69 299.1 L931.37 301.1 L930.9 303.1 L930.43 305.1 L929.96 307.1 L929.5 309.1 L928.96 311.1 L928.36 313.1 L927.76 315.1 L927.17 317.1 L926.57 319.1 L925.96 321.1 L925.17 323.1 L924.38 325.1 L923.58 327.1 L922.79 329.1 L922 331.1 L920.96 333.1 L919.85 335.1 L918.73 337.1 L917.62 339.1 L916.5 341.1 L915.29 343.1 L914.08 345.1 L912.88 347.1 L911.67 349.1 L910.46 351.1 L909.27 353.1 L908.06 355.1 L906.86 357.1 L905.65 359.1 L904.24 361.1 L902.61 363.1 L901 365.1 L899.39 367.1 L897.78 369.1 L896.44 371.1 L895.38 373.1 L894.31 375.1 L893.24 377.1 L892.18 379.1 L891.2 381.1 L890.28 383.1 L889.35 385.1 L888.42 387.1 L887.5 389.1 L886.5 391.1 L885.48 393.1 L884.46 395.1 L883.43 397.1 L882.41 399.1 L881.45 401.1 L880.52 403.1 L879.59 405.1 L878.67 407.1 L877.74 409.1 L876.83 411.1 L875.92 413.1 L875.02 415.1 L874.11 417.1 L873.21 419.1 L872.25 421.1 L871.25 423.1 L870.25 425.1 L869.25 427.1 L868.25 429.1 L867.3 431.1 L866.4 433.1 L865.5 435.1 L864.6 437.1 L863.7 439.1 L862.75 441.1 L861.74 443.1 L860.73 445.1 L859.72 447.1 L858.71 449.1 L857.92 451.1 L857.39 453.1 L856.86 455.1 L856.34 457.1 L855.81 459.1 L855.17 461.1 L854.23 463.1 L853.3 465.1 L852.37 467.1 L851.43 469.1 L850.49 471.1 L849.54 473.1 L848.59 475.1 L847.64 477.1 L846.69 479.1 L845.83 481.1 L845.02 483.1 L844.21 485.1 L843.39 487.1 L842.58 489.1 L841.79 491.1 L841 493.1 L840.2 495.1 L839.41 497.1 L838.62 499.1 L837.96 501.1 L837.33 503.1 L836.69 505.1 L836.06 507.1 L835.43 509.1 L834.61 511.1 L833.75 513.1 L832.89 515.1 L832.03 517.1 L831.17 519.1 L830.47 521.1 L829.84 523.1 L829.2 525.1 L828.57 527.1 L827.94 529.1 L827.4 531.1 L826.9 533.1 L826.39 535.1 L825.89 537.1 L825.39 539.1 L824.93 541.1 L824.47 543.1 L824.01 545.1 L823.55 547.1 L823.09 549.1 L822.39 551.1 L821.59 553.1 L820.79 555.1 L820 557.1 L819.2 559.1 L818.66 561.1 L818.21 563.1 L817.76 565.1 L817.17 567.1 L816.46 569.1 L815.66 571.1 L814.8 573.1 L813.95 575.1 L813.09 577.1 L812.24 579.1 L811.41 581.1 L810.62 583.1 L809.84 585.1 L809.06 587.1 L808.29 589.1 L807.78 591.1 L807.32 593.1 L806.86 595.1 L806.4 597.1 L805.94 599.1 L805.3 601.1 L804.63 603.1 L804.11 605.1 L803.59 607.1 L803.06 609.1 L802.51 611.1 L801.94 613.1 L801.38 615.1 L800.81 617.1 L800.25 619.1 L799.89 621.1 L799.53 623.1 L799.17 625.1 L798.72 627.1 L798.28 629.1 L797.79 631.1 L797.3 633.1 L796.81 635.1 L796.31 637.1 L795.82 639.1 L795.18 641.1 L794.49 643.1 L793.81 645.1 L793.12 647.1 L792.43 649.1 L791.96 651.1 L791.55 653.1 L791.15 655.1 L790.75 657.1 L790.35 659.1 L790 661.1 L789.68 663.1 L789.37 665.1 L789.05 667.1 L788.73 669.1 L788.31 671.1 L787.87 673.1 L787.44 675.1 L787 677.1 L786.57 679.1 L786.23 681.1 L785.92 683.1 L785.6 685.1 L785.28 687.1 L784.97 689.1 L784.63 691.1 L784.3 693.1 L783.97 695.1 L783.63 697.1 L783.27 699.1 L782.83 701.1 L782.4 703.1 L781.96 705.1 L781.53 707.1 L781.04 709.1 L780.38 711.1 L779.73 713.1 L779.08 715.1 L778.43 717.1 L777.82 719.1 L777.35 721.1 L776.95 723.1 L776.54 725.1 L776.14 727.1 L775.81 729.1 L775.57 731.1 L775.33 733.1 L775.09 735.1 L774.86 737.1 L774.63 739.1 L774.34 741.1 L773.98 743.1 L773.62 745.1 L773.26 747.1 L772.91 749.1 L772.57 751.1 L772.22 753.1 L771.88 755.1 L771.54 757.1 L771.27 759.1 L771.07 761.1 L770.86 763.1 L770.65 765.1 L770.44 767.1 L770.08 769.1 L769.69 771.1 L769.29 773.1 L768.89 775.1 L768.5 777.1 L768.18 779.1 L767.95 781.1 L767.72 783.1 L767.49 785.1 L767.26 787.1 L766.68 789.1 L765.95 791.1 L765.19 793.1 L764.44 795.1 L763.68 797.1 L763.06 799.1 L762.66 801.1 L762.25 803.1 L761.85 805.1 L761.45 807.1 L761.06 809.1 L760.68 811.1 L760.3 813.1 L759.92 815.1 L759.54 817.1" fill="none" stroke="#0ff" stroke-width="5.4" stroke-linecap="round" stroke-dasharray="0 5.3" stroke-dashoffset="2"/>
<path d="M848.8 19.1 L848.8 23.08 L848.8 27.06 L848.8 31.04 L848.8 35.02 L848.9 39.01 L849 42.99 L849.3 48.96 L849.8 58.91 L853 68.86 L854.6 78.81 L855.7 88.77 L857.8 98.72 L865.5 108.67 L868.5 118.62 L878.7 138.53 L885.2 158.44 L893.5 178.34 L898.3 198.24 L903.6 218.15 L910.5 267.91 L904.1 317.68 L891.9 417.2 L876.6 516.73 L859.3 616.25 L842.3 715.77 L823.3 815.3" fill="none" stroke="#f00" stroke-width="8.9" stroke-linejoin="round" stroke-linecap="round"/>
<g fill="#f00"><circle cx="848.8" cy="19.1" r="6.15"/><circle cx="848.8" cy="23.08" r="6.15"/><circle cx="848.8" cy="27.06" r="6.15"/><circle cx="848.8" cy="31.04" r="6.15"/><circle cx="848.8" cy="35.02" r="6.15"/><circle cx="848.9" cy="39.01" r="6.15"/><circle cx="849" cy="42.99" r="6.15"/><circle cx="849.3" cy="48.96" r="6.15"/><circle cx="849.8" cy="58.91" r="6.15"/><circle cx="853" cy="68.86" r="6.15"/><circle cx="854.6" cy="78.81" r="6.15"/><circle cx="855.7" cy="88.77" r="6.15"/><circle cx="857.8" cy="98.72" r="6.15"/><circle cx="865.5" cy="108.67" r="6.15"/><circle cx="868.5" cy="118.62" r="6.15"/><circle cx="878.7" cy="138.53" r="6.15"/><circle cx="885.2" cy="158.44" r="6.15"/><circle cx="893.5" cy="178.34" r="6.15"/><circle cx="898.3" cy="198.24" r="6.15"/><circle cx="903.6" cy="218.15" r="6.15"/><circle cx="910.5" cy="267.91" r="6.15"/><circle cx="904.1" cy="317.68" r="6.15"/><circle cx="891.9" cy="417.2" r="6.15"/><circle cx="876.6" cy="516.73" r="6.15"/><circle cx="859.3" cy="616.25" r="6.15"/><circle cx="842.3" cy="715.77" r="6.15"/><circle cx="823.3" cy="815.3" r="6.15"/></g>
<path d="M823.32 22.88 L823.37 32.81 L823.42 42.75 L823.46 52.68 L823.89 62.61 L826.27 72.54 L830.34 82.47 L833.31 92.4 L839.95 102.33 L854.75 112.27 L868 122.2 L881.03 132.13 L891.86 142.06 L903.99 151.99 L910.51 161.92 L914.98 171.86 L918.5 181.79 L922.51 191.72 L923.52 201.65 L924.54 211.58 L926.11 221.51 L927.24 231.45 L928.06 241.38 L929.15 251.31 L929.57 261.24 L929.45 271.17 L929.22 281.1 L927.53 291.04 L925.55 300.97 L922.72 310.9 L919.75 320.83 L915.83 330.76 L910.43 340.69 L904.45 350.62 L898.82 360.56 L891.2 370.49 L886.21 380.42 L881.46 390.35 L876.27 400.28 L871.55 410.21 L866.92 420.15 L861.71 430.08 L856.99 440.01 L851.74 449.94 L848.81 459.87 L844.3 469.8 L839.59 479.74 L835.55 489.67 L831.64 499.6 L828.49 509.53 L824.22 519.46 L820.58 529.39 L817.57 539.33 L814.8 549.26 L810.58 559.19 L807.95 569.12 L804.68 579.05 L801.53 588.98 L799.89 598.91 L797.28 608.85 L794.39 618.78 L792.49 628.71 L790.4 638.64 L787.42 648.57 L785.62 658.5 L784.04 668.44 L781.92 678.37 L780.29 688.3 L778.64 698.23 L776.5 708.16 L773.3 718.09 L770.55 728.03 L768.61 737.96 L766.82 747.89 L765.11 757.82 L764.05 767.75 L762.08 777.68 L760.89 787.62 L757.46 797.55 L755.65 807.48" fill="none" stroke="#00f" stroke-width="2.6" stroke-linejoin="round"/>
<g fill="#00f"><circle cx="823.32" cy="22.88" r="6.15"/><circle cx="823.37" cy="32.81" r="6.15"/><circle cx="823.42" cy="42.75" r="6.15"/><circle cx="823.46" cy="52.68" r="6.15"/><circle cx="823.89" cy="62.61" r="6.15"/><circle cx="826.27" cy="72.54" r="6.15"/><circle cx="830.34" cy="82.47" r="6.15"/><circle cx="833.31" cy="92.4" r="6.15"/><circle cx="839.95" cy="102.33" r="6.15"/><circle cx="854.75" cy="112.27" r="6.15"/><circle cx="868" cy="122.2" r="6.15"/><circle cx="881.03" cy="132.13" r="6.15"/><circle cx="891.86" cy="142.06" r="6.15"/><circle cx="903.99" cy="151.99" r="6.15"/><circle cx="910.51" cy="161.92" r="6.15"/><circle cx="914.98" cy="171.86" r="6.15"/><circle cx="918.5" cy="181.79" r="6.15"/><circle cx="922.51" cy="191.72" r="6.15"/><circle cx="923.52" cy="201.65" r="6.15"/><circle cx="924.54" cy="211.58" r="6.15"/><circle cx="926.11" cy="221.51" r="6.15"/><circle cx="927.24" cy="231.45" r="6.15"/><circle cx="928.06" cy="241.38" r="6.15"/><circle cx="929.15" cy="251.31" r="6.15"/><circle cx="929.57" cy="261.24" r="6.15"/><circle cx="929.45" cy="271.17" r="6.15"/><circle cx="929.22" cy="281.1" r="6.15"/><circle cx="927.53" cy="291.04" r="6.15"/><circle cx="925.55" cy="300.97" r="6.15"/><circle cx="922.72" cy="310.9" r="6.15"/><circle cx="919.75" cy="320.83" r="6.15"/><circle cx="915.83" cy="330.76" r="6.15"/><circle cx="910.43" cy="340.69" r="6.15"/><circle cx="904.45" cy="350.62" r="6.15"/><circle cx="898.82" cy="360.56" r="6.15"/><circle cx="891.2" cy="370.49" r="6.15"/><circle cx="886.21" cy="380.42" r="6.15"/><circle cx="881.46" cy="390.35" r="6.15"/><circle cx="876.27" cy="400.28" r="6.15"/><circle cx="871.55" cy="410.21" r="6.15"/><circle cx="866.92" cy="420.15" r="6.15"/><circle cx="861.71" cy="430.08" r="6.15"/><circle cx="856.99" cy="440.01" r="6.15"/><circle cx="851.74" cy="449.94" r="6.15"/><circle cx="848.81" cy="459.87" r="6.15"/><circle cx="844.3" cy="469.8" r="6.15"/><circle cx="839.59" cy="479.74" r="6.15"/><circle cx="835.55" cy="489.67" r="6.15"/><circle cx="831.64" cy="499.6" r="6.15"/><circle cx="828.49" cy="509.53" r="6.15"/><circle cx="824.22" cy="519.46" r="6.15"/><circle cx="820.58" cy="529.39" r="6.15"/><circle cx="817.57" cy="539.33" r="6.15"/><circle cx="814.8" cy="549.26" r="6.15"/><circle cx="810.58" cy="559.19" r="6.15"/><circle cx="807.95" cy="569.12" r="6.15"/><circle cx="804.68" cy="579.05" r="6.15"/><circle cx="801.53" cy="588.98" r="6.15"/><circle cx="799.89" cy="598.91" r="6.15"/><circle cx="797.28" cy="608.85" r="6.15"/><circle cx="794.39" cy="618.78" r="6.15"/><circle cx="792.49" cy="628.71" r="6.15"/><circle cx="790.4" cy="638.64" r="6.15"/><circle cx="787.42" cy="648.57" r="6.15"/><circle cx="785.62" cy="658.5" r="6.15"/><circle cx="784.04" cy="668.44" r="6.15"/><circle cx="781.92" cy="678.37" r="6.15"/><circle cx="780.29" cy="688.3" r="6.15"/><circle cx="778.64" cy="698.23" r="6.15"/><circle cx="776.5" cy="708.16" r="6.15"/><circle cx="773.3" cy="718.09" r="6.15"/><circle cx="770.55" cy="728.03" r="6.15"/><circle cx="768.61" cy="737.96" r="6.15"/><circle cx="766.82" cy="747.89" r="6.15"/><circle cx="765.11" cy="757.82" r="6.15"/><circle cx="764.05" cy="767.75" r="6.15"/><circle cx="762.08" cy="777.68" r="6.15"/><circle cx="760.89" cy="787.62" r="6.15"/><circle cx="757.46" cy="797.55" r="6.15"/><circle cx="755.65" cy="807.48" r="6.15"/></g>
<path d="M828.6 19.1 L830.3 23.08 L831.3 27.06 L831.3 31.04 L831.3 35.02 L831.3 39.01 L831.3 42.99 L831.3 48.96 L831.3 58.91 L831.8 68.86 L834.1 78.81 L838.2 88.77 L845.7 98.72 L855.8 108.67 L866.4 118.62 L891.4 138.53 L913.7 158.44 L926.4 178.34 L933.9 198.24 L939.7 218.15 L932.3 267.91 L921.6 317.68 L880.5 417.2 L848.6 516.73 L818.4 616.25 L784.4 715.77 L750.1 815.3" fill="none" stroke="#008000" stroke-width="2.6" stroke-linejoin="round"/>
<g fill="#008000"><circle cx="828.6" cy="19.1" r="6.15"/><circle cx="830.3" cy="23.08" r="6.15"/><circle cx="831.3" cy="27.06" r="6.15"/><circle cx="831.3" cy="31.04" r="6.15"/><circle cx="831.3" cy="35.02" r="6.15"/><circle cx="831.3" cy="39.01" r="6.15"/><circle cx="831.3" cy="42.99" r="6.15"/><circle cx="831.3" cy="48.96" r="6.15"/><circle cx="831.3" cy="58.91" r="6.15"/><circle cx="831.8" cy="68.86" r="6.15"/><circle cx="834.1" cy="78.81" r="6.15"/><circle cx="838.2" cy="88.77" r="6.15"/><circle cx="845.7" cy="98.72" r="6.15"/><circle cx="855.8" cy="108.67" r="6.15"/><circle cx="866.4" cy="118.62" r="6.15"/><circle cx="891.4" cy="138.53" r="6.15"/><circle cx="913.7" cy="158.44" r="6.15"/><circle cx="926.4" cy="178.34" r="6.15"/><circle cx="933.9" cy="198.24" r="6.15"/><circle cx="939.7" cy="218.15" r="6.15"/><circle cx="932.3" cy="267.91" r="6.15"/><circle cx="921.6" cy="317.68" r="6.15"/><circle cx="880.5" cy="417.2" r="6.15"/><circle cx="848.6" cy="516.73" r="6.15"/><circle cx="818.4" cy="616.25" r="6.15"/><circle cx="784.4" cy="715.77" r="6.15"/><circle cx="750.1" cy="815.3" r="6.15"/></g>
<path d="M813.5 20.08 L813.5 22.17 L813.5 24.37 L813.5 26.7 L813.6 29.21 L813.7 31.92 L813.8 34.88 L814 38.16 L814.3 41.8 L814.8 45.91 L815.6 50.57 L816.8 55.92 L818.6 62.09 L820.3 69.28 L822 77.71 L831.6 87.64 L856.7 99.4 L877.6 113.4 L887.7 130.1 L898.8 150.09 L911.6 174.07 L920.6 202.87 L924.6 237.52 L922.7 279.19 L912.6 329.32 L892.4 389.58 L865.6 461.94 L832.7 548.65 L794.3 652.33 L754.6 775.91 L708 922.66" fill="none" stroke="#f0f" stroke-width="2.6" stroke-linejoin="round"/>
<g fill="#f0f"><circle cx="813.5" cy="20.08" r="6.15"/><circle cx="813.5" cy="22.17" r="6.15"/><circle cx="813.5" cy="24.37" r="6.15"/><circle cx="813.5" cy="26.7" r="6.15"/><circle cx="813.6" cy="29.21" r="6.15"/><circle cx="813.7" cy="31.92" r="6.15"/><circle cx="813.8" cy="34.88" r="6.15"/><circle cx="814" cy="38.16" r="6.15"/><circle cx="814.3" cy="41.8" r="6.15"/><circle cx="814.8" cy="45.91" r="6.15"/><circle cx="815.6" cy="50.57" r="6.15"/><circle cx="816.8" cy="55.92" r="6.15"/><circle cx="818.6" cy="62.09" r="6.15"/><circle cx="820.3" cy="69.28" r="6.15"/><circle cx="822" cy="77.71" r="6.15"/><circle cx="831.6" cy="87.64" r="6.15"/><circle cx="856.7" cy="99.4" r="6.15"/><circle cx="877.6" cy="113.4" r="6.15"/><circle cx="887.7" cy="130.1" r="6.15"/><circle cx="898.8" cy="150.09" r="6.15"/><circle cx="911.6" cy="174.07" r="6.15"/><circle cx="920.6" cy="202.87" r="6.15"/><circle cx="924.6" cy="237.52" r="6.15"/><circle cx="922.7" cy="279.19" r="6.15"/><circle cx="912.6" cy="329.32" r="6.15"/><circle cx="892.4" cy="389.58" r="6.15"/><circle cx="865.6" cy="461.94" r="6.15"/><circle cx="832.7" cy="548.65" r="6.15"/><circle cx="794.3" cy="652.33" r="6.15"/><circle cx="754.6" cy="775.91" r="6.15"/><circle cx="708" cy="922.66" r="6.15"/></g>
</g>
<rect class="sp" x="580.5" y="19.5" width="402" height="795"/>
<path class="t" d="M624.5 814.5 v6.4 M709.5 814.5 v6.4 M793.5 814.5 v6.4 M877.5 814.5 v6.4 M961.5 814.5 v6.4 M580.5 19.5 h-6.4 M580.5 68.5 h-6.4 M580.5 118.5 h-6.4 M580.5 168.5 h-6.4 M580.5 218.5 h-6.4 M580.5 267.5 h-6.4 M580.5 317.5 h-6.4 M580.5 367.5 h-6.4 M580.5 417.5 h-6.4 M580.5 466.5 h-6.4 M580.5 516.5 h-6.4 M580.5 566.5 h-6.4 M580.5 616.5 h-6.4 M580.5 666.5 h-6.4 M580.5 715.5 h-6.4 M580.5 765.5 h-6.4"/>
<g class="tk" text-anchor="middle">
<text transform="translate(623.8 841.9) scale(1 1.07)">35.0</text>
<text transform="translate(708.8 841.9) scale(1 1.07)">35.5</text>
<text transform="translate(792.8 841.9) scale(1 1.07)">36.0</text>
<text transform="translate(876.8 841.9) scale(1 1.07)">36.5</text>
<text transform="translate(960.8 841.9) scale(1 1.07)">37.0</text>
</g>
</g>
<g id="panel3">
<clipPath id="c3"><rect x="1072.5" y="19.5" width="402" height="795"/></clipPath>
<path class="g" d="M1121.5 814.5 V19.5 M1201.5 814.5 V19.5 M1282.5 814.5 V19.5 M1363.5 814.5 V19.5 M1443.5 814.5 V19.5 M1072.5 19.5 H1474.5 M1072.5 68.5 H1474.5 M1072.5 118.5 H1474.5 M1072.5 168.5 H1474.5 M1072.5 218.5 H1474.5 M1072.5 267.5 H1474.5 M1072.5 317.5 H1474.5 M1072.5 367.5 H1474.5 M1072.5 417.5 H1474.5 M1072.5 466.5 H1474.5 M1072.5 516.5 H1474.5 M1072.5 566.5 H1474.5 M1072.5 616.5 H1474.5 M1072.5 666.5 H1474.5 M1072.5 715.5 H1474.5 M1072.5 765.5 H1474.5"/>
<g clip-path="url(#c3)">
<path d="M1093.1 17.1 L1093.11 19.1 L1093.25 21.1 L1093.4 23.1 L1093.54 25.1 L1093.69 27.1 L1093.83 29.1 L1094.02 31.1 L1094.25 33.1 L1094.47 35.1 L1094.7 37.1 L1094.92 39.1 L1095.19 41.1 L1095.64 43.1 L1096.09 45.1 L1096.53 47.1 L1096.98 49.1 L1097.43 51.1 L1097.84 53.1 L1098.2 55.1 L1098.55 57.1 L1098.91 59.1 L1099.26 61.1 L1099.62 63.1 L1099.96 65.1 L1100.3 67.1 L1100.64 69.1 L1100.98 71.1 L1101.32 73.1 L1101.85 75.1 L1102.46 77.1 L1103.06 79.1 L1103.66 81.1 L1104.27 83.1 L1104.83 85.1 L1105.34 87.1 L1105.85 89.1 L1106.03 91.1 L1105.94 93.1 L1105.87 95.1 L1105.94 97.1 L1106 99.1 L1106.29 101.1 L1106.76 103.1 L1107.36 105.1 L1108.23 107.1 L1109.09 109.1 L1109.86 111.1 L1110.55 113.1 L1111.9 115.1 L1113.61 117.1 L1115.31 119.1 L1117.02 121.1 L1118.73 123.1 L1120.07 125.1 L1121.68 127.1 L1123.55 129.1 L1125.42 131.1 L1127.27 133.1 L1129.09 135.1 L1130.85 137.1 L1132.62 139.1 L1134.39 141.1 L1136.07 143.1 L1137.67 145.1 L1139.28 147.1 L1140.89 149.1 L1142.49 151.1 L1143.97 153.1 L1145.27 155.1 L1146.57 157.1 L1147.86 159.1 L1149.16 161.1 L1150.44 163.1 L1151.58 165.1 L1152.68 167.1 L1153.79 169.1 L1154.89 171.1 L1155.91 173.1 L1156.81 175.1 L1157.72 177.1 L1158.63 179.1 L1159.53 181.1 L1160.44 183.1 L1161.57 185.1 L1162.83 187.1 L1164.08 189.1 L1165.33 191.1 L1166.55 193.1 L1167.74 195.1 L1168.93 197.1 L1170.12 199.1 L1171.33 201.1 L1172.25 203.1 L1173.05 205.1 L1173.84 207.1 L1174.63 209.1 L1175.42 211.1 L1176.25 213.1 L1177.12 215.1 L1178 217.1 L1178.88 219.1 L1179.75 221.1 L1180.46 223.1 L1181.07 225.1 L1181.67 227.1 L1182.27 229.1 L1182.88 231.1 L1183.53 233.1 L1184.31 235.1 L1185.09 237.1 L1185.87 239.1 L1186.65 241.1 L1187.31 243.1 L1187.87 245.1 L1188.43 247.1 L1189 249.1 L1189.56 251.1 L1190.21 253.1 L1190.88 255.1 L1191.55 257.1 L1192.23 259.1 L1192.9 261.1 L1193.59 263.1 L1194.28 265.1 L1194.97 267.1 L1195.67 269.1 L1196.36 271.1 L1197.11 273.1 L1197.89 275.1 L1198.66 277.1 L1199.44 279.1 L1200.22 281.1 L1201.33 283.1 L1202.47 285.1 L1203.61 287.1 L1204.75 289.1 L1205.82 291.1 L1206.72 293.1 L1207.62 295.1 L1208.51 297.1 L1209.41 299.1 L1210.36 301.1 L1211.35 303.1 L1212.34 305.1 L1213.33 307.1 L1214.32 309.1 L1215.28 311.1 L1216.02 313.1 L1216.76 315.1 L1217.5 317.1 L1218.24 319.1 L1218.94 321.1 L1219.59 323.1 L1220.24 325.1 L1220.89 327.1 L1221.54 329.1 L1222.33 331.1 L1223.22 333.1 L1224.12 335.1 L1225.01 337.1 L1225.9 339.1 L1226.85 341.1 L1227.94 343.1 L1229.03 345.1 L1230.12 347.1 L1231.19 349.1 L1231.97 351.1 L1232.73 353.1 L1233.5 355.1 L1234.26 357.1 L1235.03 359.1 L1235.77 361.1 L1236.5 363.1 L1237.24 365.1 L1237.97 367.1 L1238.7 369.1 L1239.34 371.1 L1239.96 373.1 L1240.59 375.1 L1241.22 377.1 L1241.85 379.1 L1242.42 381.1 L1242.89 383.1 L1243.35 385.1 L1243.82 387.1 L1244.29 389.1 L1244.73 391.1 L1245.14 393.1 L1245.55 395.1 L1245.96 397.1 L1246.38 399.1 L1246.86 401.1 L1247.37 403.1 L1247.88 405.1 L1248.38 407.1 L1248.89 409.1 L1249.33 411.1 L1249.67 413.1 L1250 415.1 L1250.33 417.1 L1250.67 419.1 L1251.06 421.1 L1251.5 423.1 L1251.94 425.1 L1252.38 427.1 L1252.81 429.1 L1253.14 431.1 L1253.44 433.1 L1253.75 435.1 L1254.05 437.1 L1254.35 439.1 L1254.67 441.1 L1255.01 443.1 L1255.34 445.1 L1255.68 447.1 L1256.02 449.1 L1256.4 451.1 L1256.79 453.1 L1257.19 455.1 L1257.59 457.1 L1257.98 459.1 L1258.26 461.1 L1258.39 463.1 L1258.51 465.1 L1258.64 467.1 L1258.77 469.1 L1259.13 471.1 L1259.57 473.1 L1260.02 475.1 L1260.46 477.1 L1260.9 479.1 L1261.11 481.1 L1261.32 483.1 L1261.52 485.1 L1261.73 487.1 L1261.94 489.1 L1262.31 491.1 L1262.74 493.1 L1263.18 495.1 L1263.62 497.1 L1264.06 499.1 L1264.21 501.1 L1264.33 503.1 L1264.44 505.1 L1264.56 507.1 L1264.68 509.1 L1265.05 511.1 L1265.47 513.1 L1265.89 515.1 L1266.3 517.1 L1266.72 519.1 L1266.96 521.1 L1267.16 523.1 L1267.36 525.1 L1267.56 527.1 L1267.76 529.1 L1267.98 531.1 L1268.21 533.1 L1268.44 535.1 L1268.67 537.1 L1268.9 539.1 L1269.32 541.1 L1269.73 543.1 L1270.15 545.1 L1270.56 547.1 L1270.98 549.1 L1271.2 551.1 L1271.41 553.1 L1271.62 555.1 L1271.84 557.1 L1272.05 559.1 L1272.41 561.1 L1272.83 563.1 L1273.25 565.1 L1273.67 567.1 L1274.09 569.1 L1274.37 571.1 L1274.6 573.1 L1274.83 575.1 L1275.06 577.1 L1275.29 579.1 L1275.39 581.1 L1275.49 583.1 L1275.59 585.1 L1275.69 587.1 L1275.79 589.1 L1276.09 591.1 L1276.4 593.1 L1276.72 595.1 L1277.04 597.1 L1277.35 599.1 L1277.69 601.1 L1278.02 603.1 L1278.36 605.1 L1278.7 607.1 L1279.02 609.1 L1279.23 611.1 L1279.44 613.1 L1279.64 615.1 L1279.85 617.1 L1280.06 619.1 L1280.27 621.1 L1280.47 623.1 L1280.68 625.1 L1280.89 627.1 L1281.1 629.1 L1281.32 631.1 L1281.54 633.1 L1281.75 635.1 L1281.97 637.1 L1282.19 639.1 L1282.38 641.1 L1282.57 643.1 L1282.77 645.1 L1282.96 647.1 L1283.15 649.1 L1283.45 651.1 L1283.79 653.1 L1284.13 655.1 L1284.46 657.1 L1284.8 659.1 L1285.02 661.1 L1285.24 663.1 L1285.45 665.1 L1285.67 667.1 L1285.89 669.1 L1286.2 671.1 L1286.52 673.1 L1286.83 675.1 L1287.15 677.1 L1287.47 679.1 L1287.6 681.1 L1287.71 683.1 L1287.82 685.1 L1287.93 687.1 L1288.09 689.1 L1288.3 691.1 L1288.52 693.1 L1288.74 695.1 L1288.96 697.1 L1289.22 699.1 L1289.55 701.1 L1289.89 703.1 L1290.23 705.1 L1290.57 707.1 L1290.88 709.1 L1291.18 711.1 L1291.48 713.1 L1291.78 715.1 L1292.08 717.1 L1292.35 719.1 L1292.56 721.1 L1292.77 723.1 L1292.98 725.1 L1293.19 727.1 L1293.36 729.1 L1293.48 731.1 L1293.59 733.1 L1293.71 735.1 L1293.83 737.1 L1293.98 739.1 L1294.18 741.1 L1294.38 743.1 L1294.57 745.1 L1294.77 747.1 L1295.05 749.1 L1295.5 751.1 L1295.94 753.1 L1296.38 755.1 L1296.82 757.1 L1297.12 759.1 L1297.33 761.1 L1297.54 763.1 L1297.75 765.1 L1297.95 767.1 L1298.17 769.1 L1298.4 771.1 L1298.63 773.1 L1298.86 775.1 L1299.09 777.1 L1299.3 779.1 L1299.5 781.1 L1299.7 783.1 L1299.89 785.1 L1300.09 787.1 L1300.3 789.1 L1300.52 791.1 L1300.73 793.1 L1300.95 795.1 L1301.17 797.1 L1301.43 799.1 L1301.75 801.1 L1302.07 803.1 L1302.39 805.1 L1302.71 807.1 L1302.98 809.1 L1303.19 811.1 L1303.39 813.1 L1303.6 815.1 L1303.81 817.1 L1311.21 817.1 L1311 815.1 L1310.79 813.1 L1310.59 811.1 L1310.38 809.1 L1310.11 807.1 L1309.79 805.1 L1309.47 803.1 L1309.15 801.1 L1308.83 799.1 L1308.57 797.1 L1308.35 795.1 L1308.13 793.1 L1307.92 791.1 L1307.7 789.1 L1307.49 787.1 L1307.29 785.1 L1307.1 783.1 L1306.9 781.1 L1306.7 779.1 L1306.49 777.1 L1306.26 775.1 L1306.03 773.1 L1305.8 771.1 L1305.57 769.1 L1305.35 767.1 L1305.15 765.1 L1304.94 763.1 L1304.73 761.1 L1304.52 759.1 L1304.22 757.1 L1303.78 755.1 L1303.34 753.1 L1302.9 751.1 L1302.45 749.1 L1302.17 747.1 L1301.97 745.1 L1301.78 743.1 L1301.58 741.1 L1301.38 739.1 L1301.23 737.1 L1301.11 735.1 L1300.99 733.1 L1300.88 731.1 L1300.76 729.1 L1300.59 727.1 L1300.38 725.1 L1300.17 723.1 L1299.96 721.1 L1299.75 719.1 L1299.48 717.1 L1299.18 715.1 L1298.88 713.1 L1298.58 711.1 L1298.28 709.1 L1297.97 707.1 L1297.63 705.1 L1297.29 703.1 L1296.95 701.1 L1296.62 699.1 L1296.36 697.1 L1296.14 695.1 L1295.92 693.1 L1295.7 691.1 L1295.49 689.1 L1295.33 687.1 L1295.22 685.1 L1295.11 683.1 L1295 681.1 L1294.87 679.1 L1294.55 677.1 L1294.23 675.1 L1293.92 673.1 L1293.6 671.1 L1293.29 669.1 L1293.07 667.1 L1292.85 665.1 L1292.64 663.1 L1292.42 661.1 L1292.2 659.1 L1291.86 657.1 L1291.53 655.1 L1291.19 653.1 L1290.85 651.1 L1290.55 649.1 L1290.36 647.1 L1290.17 645.1 L1289.97 643.1 L1289.78 641.1 L1289.59 639.1 L1289.37 637.1 L1289.15 635.1 L1288.94 633.1 L1288.72 631.1 L1288.5 629.1 L1288.29 627.1 L1288.08 625.1 L1287.88 623.1 L1287.67 621.1 L1287.46 619.1 L1287.25 617.1 L1287.04 615.1 L1286.84 613.1 L1286.63 611.1 L1286.42 609.1 L1286.1 607.1 L1285.76 605.1 L1285.42 603.1 L1285.09 601.1 L1284.75 599.1 L1284.44 597.1 L1284.12 595.1 L1283.8 593.1 L1283.49 591.1 L1283.19 589.1 L1283.09 587.1 L1282.99 585.1 L1282.89 583.1 L1282.79 581.1 L1282.69 579.1 L1282.46 577.1 L1282.23 575.1 L1282 573.1 L1281.77 571.1 L1281.49 569.1 L1281.07 567.1 L1280.65 565.1 L1280.23 563.1 L1279.82 561.1 L1279.45 559.1 L1279.24 557.1 L1279.02 555.1 L1278.81 553.1 L1278.6 551.1 L1278.38 549.1 L1277.96 547.1 L1277.55 545.1 L1277.13 543.1 L1276.72 541.1 L1276.3 539.1 L1276.07 537.1 L1275.84 535.1 L1275.61 533.1 L1275.38 531.1 L1275.16 529.1 L1274.96 527.1 L1274.76 525.1 L1274.56 523.1 L1274.36 521.1 L1274.12 519.1 L1273.7 517.1 L1273.29 515.1 L1272.87 513.1 L1272.45 511.1 L1272.08 509.1 L1271.96 507.1 L1271.84 505.1 L1271.73 503.1 L1271.61 501.1 L1271.46 499.1 L1271.04 497.1 L1270.62 495.1 L1270.2 493.1 L1269.78 491.1 L1269.43 489.1 L1269.24 487.1 L1269.05 485.1 L1268.86 483.1 L1268.67 481.1 L1268.48 479.1 L1268.06 477.1 L1267.63 475.1 L1267.21 473.1 L1266.78 471.1 L1266.44 469.1 L1266.33 467.1 L1266.22 465.1 L1266.11 463.1 L1266 461.1 L1265.74 459.1 L1265.36 457.1 L1264.98 455.1 L1264.6 453.1 L1264.23 451.1 L1263.86 449.1 L1263.54 447.1 L1263.22 445.1 L1262.9 443.1 L1262.58 441.1 L1262.28 439.1 L1262 437.1 L1261.71 435.1 L1261.43 433.1 L1261.14 431.1 L1260.83 429.1 L1260.41 427.1 L1259.99 425.1 L1259.57 423.1 L1259.15 421.1 L1258.79 419.1 L1258.52 417.1 L1258.25 415.1 L1257.97 413.1 L1257.7 411.1 L1257.32 409.1 L1256.87 407.1 L1256.42 405.1 L1255.97 403.1 L1255.52 401.1 L1255.1 399.1 L1254.75 397.1 L1254.4 395.1 L1254.05 393.1 L1253.69 391.1 L1253.32 389.1 L1252.91 387.1 L1252.5 385.1 L1252.09 383.1 L1251.68 381.1 L1251.19 379.1 L1250.67 377.1 L1250.14 375.1 L1249.61 373.1 L1249.08 371.1 L1248.55 369.1 L1247.91 367.1 L1247.28 365.1 L1246.65 363.1 L1246.02 361.1 L1245.37 359.1 L1244.71 357.1 L1244.04 355.1 L1243.38 353.1 L1242.71 351.1 L1241.99 349.1 L1240.92 347.1 L1239.83 345.1 L1238.74 343.1 L1237.65 341.1 L1236.7 339.1 L1235.81 337.1 L1234.92 335.1 L1234.02 333.1 L1233.13 331.1 L1232.41 329.1 L1231.91 327.1 L1231.41 325.1 L1230.92 323.1 L1230.42 321.1 L1229.87 319.1 L1229.29 317.1 L1228.7 315.1 L1228.11 313.1 L1227.53 311.1 L1226.73 309.1 L1225.89 307.1 L1225.05 305.1 L1224.21 303.1 L1223.37 301.1 L1222.57 299.1 L1221.83 297.1 L1221.08 295.1 L1220.34 293.1 L1219.59 291.1 L1218.66 289.1 L1217.67 287.1 L1216.68 285.1 L1215.69 283.1 L1214.74 281.1 L1214.04 279.1 L1213.24 277.1 L1212.44 275.1 L1211.65 273.1 L1210.88 271.1 L1210.18 269.1 L1209.47 267.1 L1208.76 265.1 L1208.05 263.1 L1207.34 261.1 L1206.65 259.1 L1205.96 257.1 L1205.27 255.1 L1204.58 253.1 L1203.92 251.1 L1203.34 249.1 L1202.76 247.1 L1202.18 245.1 L1201.6 243.1 L1200.93 241.1 L1200.13 239.1 L1199.33 237.1 L1198.54 235.1 L1197.74 233.1 L1197.07 231.1 L1196.45 229.1 L1195.83 227.1 L1195.21 225.1 L1194.59 223.1 L1193.86 221.1 L1192.84 219.1 L1191.66 217.1 L1190.49 215.1 L1189.31 213.1 L1188.19 211.1 L1187.1 209.1 L1186 207.1 L1184.91 205.1 L1183.82 203.1 L1182.6 201.1 L1181.2 199.1 L1179.97 197.1 L1178.74 195.1 L1177.51 193.1 L1176.25 191.1 L1174.96 189.1 L1173.67 187.1 L1172.38 185.1 L1171.62 183.1 L1171.11 181.1 L1170.61 179.1 L1170.1 177.1 L1169.59 175.1 L1169.4 173.1 L1169.11 171.1 L1168.73 169.1 L1168.36 167.1 L1167.98 165.1 L1167.4 163.1 L1166.49 161.1 L1165.55 159.1 L1164.62 157.1 L1163.69 155.1 L1162.75 153.1 L1160.87 151.1 L1158.82 149.1 L1156.77 147.1 L1154.72 145.1 L1152.67 143.1 L1150.54 141.1 L1148.33 139.1 L1146.12 137.1 L1143.91 135.1 L1141.86 133.1 L1139.79 131.1 L1137.69 129.1 L1135.6 127.1 L1133.65 125.1 L1131.81 123.1 L1129.6 121.1 L1127.39 119.1 L1125.18 117.1 L1122.97 115.1 L1121.12 113.1 L1119.93 111.1 L1118.71 109.1 L1117.45 107.1 L1116.18 105.1 L1115.18 103.1 L1114.31 101.1 L1113.53 99.1 L1112.87 97.1 L1112.2 95.1 L1111.67 93.1 L1111.16 91.1 L1110.65 89.1 L1110.14 87.1 L1109.63 85.1 L1109.07 83.1 L1108.46 81.1 L1107.86 79.1 L1107.26 77.1 L1106.65 75.1 L1106.12 73.1 L1105.78 71.1 L1105.44 69.1 L1105.1 67.1 L1104.76 65.1 L1104.42 63.1 L1104.06 61.1 L1103.71 59.1 L1103.35 57.1 L1103 55.1 L1102.64 53.1 L1102.23 51.1 L1101.78 49.1 L1101.33 47.1 L1100.89 45.1 L1100.44 43.1 L1099.99 41.1 L1099.72 39.1 L1099.5 37.1 L1099.27 35.1 L1099.05 33.1 L1098.82 31.1 L1098.63 29.1 L1098.49 27.1 L1098.34 25.1 L1098.2 23.1 L1098.05 21.1 L1097.91 19.1 L1097.9 17.1Z" fill="#0ff" stroke="#0ff" stroke-width="1" stroke-linejoin="round"/>
<path d="M1094.2 17.1 L1094.21 19.1 L1094.35 21.1 L1094.5 23.1 L1094.64 25.1 L1094.79 27.1 L1094.93 29.1 L1095.12 31.1 L1095.35 33.1 L1095.57 35.1 L1095.8 37.1 L1096.02 39.1 L1096.29 41.1 L1096.74 43.1 L1097.19 45.1 L1097.63 47.1 L1098.08 49.1 L1098.53 51.1 L1098.94 53.1 L1099.3 55.1 L1099.65 57.1 L1100.01 59.1 L1100.36 61.1 L1100.72 63.1 L1101.06 65.1 L1101.4 67.1 L1101.74 69.1 L1102.08 71.1 L1102.42 73.1 L1102.95 75.1 L1103.56 77.1 L1104.16 79.1 L1104.76 81.1 L1105.37 83.1 L1105.93 85.1 L1106.44 87.1 L1106.95 89.1 L1107.13 91.1 L1107.04 93.1 L1106.97 95.1 L1107.04 97.1 L1107.1 99.1 L1107.39 101.1 L1107.86 103.1 L1108.46 105.1 L1109.33 107.1 L1110.19 109.1 L1110.96 111.1 L1111.65 113.1 L1113 115.1 L1114.71 117.1 L1116.41 119.1 L1118.12 121.1 L1119.83 123.1 L1121.17 125.1 L1122.78 127.1 L1124.65 129.1 L1126.52 131.1 L1128.37 133.1 L1130.19 135.1 L1131.95 137.1 L1133.72 139.1 L1135.49 141.1 L1137.17 143.1 L1138.77 145.1 L1140.38 147.1 L1141.99 149.1 L1143.59 151.1 L1145.07 153.1 L1146.37 155.1 L1147.67 157.1 L1148.96 159.1 L1150.26 161.1 L1151.54 163.1 L1152.68 165.1 L1153.78 167.1 L1154.89 169.1 L1155.99 171.1 L1157.01 173.1 L1157.91 175.1 L1158.82 177.1 L1159.73 179.1 L1160.63 181.1 L1161.54 183.1 L1162.67 185.1 L1163.93 187.1 L1165.18 189.1 L1166.43 191.1 L1167.65 193.1 L1168.84 195.1 L1170.03 197.1 L1171.22 199.1 L1172.43 201.1 L1173.35 203.1 L1174.15 205.1 L1174.94 207.1 L1175.73 209.1 L1176.52 211.1 L1177.35 213.1 L1178.22 215.1 L1179.1 217.1 L1179.98 219.1 L1180.85 221.1 L1181.56 223.1 L1182.17 225.1 L1182.77 227.1 L1183.37 229.1 L1183.98 231.1 L1184.63 233.1 L1185.41 235.1 L1186.19 237.1 L1186.97 239.1 L1187.75 241.1 L1188.41 243.1 L1188.97 245.1 L1189.53 247.1 L1190.1 249.1 L1190.66 251.1 L1191.31 253.1 L1191.98 255.1 L1192.65 257.1 L1193.33 259.1 L1194 261.1 L1194.69 263.1 L1195.38 265.1 L1196.07 267.1 L1196.77 269.1 L1197.46 271.1 L1198.21 273.1 L1198.99 275.1 L1199.76 277.1 L1200.54 279.1 L1201.32 281.1 L1202.43 283.1 L1203.57 285.1 L1204.71 287.1 L1205.85 289.1 L1206.92 291.1 L1207.82 293.1 L1208.72 295.1 L1209.61 297.1 L1210.51 299.1 L1211.46 301.1 L1212.45 303.1 L1213.44 305.1 L1214.43 307.1 L1215.42 309.1 L1216.38 311.1 L1217.12 313.1 L1217.86 315.1 L1218.6 317.1 L1219.34 319.1 L1220.04 321.1 L1220.69 323.1 L1221.34 325.1 L1221.99 327.1 L1222.64 329.1 L1223.43 331.1 L1224.32 333.1 L1225.22 335.1 L1226.11 337.1 L1227 339.1 L1227.95 341.1 L1229.04 343.1 L1230.13 345.1 L1231.22 347.1 L1232.29 349.1 L1233.07 351.1 L1233.83 353.1 L1234.6 355.1 L1235.36 357.1 L1236.13 359.1 L1236.87 361.1 L1237.6 363.1 L1238.34 365.1 L1239.07 367.1 L1239.8 369.1 L1240.44 371.1 L1241.06 373.1 L1241.69 375.1 L1242.32 377.1 L1242.95 379.1 L1243.52 381.1 L1243.99 383.1 L1244.45 385.1 L1244.92 387.1 L1245.39 389.1 L1245.83 391.1 L1246.24 393.1 L1246.65 395.1 L1247.06 397.1 L1247.48 399.1 L1247.96 401.1 L1248.47 403.1 L1248.98 405.1 L1249.48 407.1 L1249.99 409.1 L1250.43 411.1 L1250.77 413.1 L1251.1 415.1 L1251.43 417.1 L1251.77 419.1 L1252.16 421.1 L1252.6 423.1 L1253.04 425.1 L1253.48 427.1 L1253.91 429.1 L1254.24 431.1 L1254.54 433.1 L1254.85 435.1 L1255.15 437.1 L1255.45 439.1 L1255.77 441.1 L1256.11 443.1 L1256.44 445.1 L1256.78 447.1 L1257.12 449.1 L1257.5 451.1 L1257.89 453.1 L1258.29 455.1 L1258.69 457.1 L1259.08 459.1 L1259.36 461.1 L1259.49 463.1 L1259.61 465.1 L1259.74 467.1 L1259.87 469.1 L1260.23 471.1 L1260.67 473.1 L1261.12 475.1 L1261.56 477.1 L1262 479.1 L1262.21 481.1 L1262.42 483.1 L1262.62 485.1 L1262.83 487.1 L1263.04 489.1 L1263.41 491.1 L1263.84 493.1 L1264.28 495.1 L1264.72 497.1 L1265.16 499.1 L1265.31 501.1 L1265.43 503.1 L1265.54 505.1 L1265.66 507.1 L1265.78 509.1 L1266.15 511.1 L1266.57 513.1 L1266.99 515.1 L1267.4 517.1 L1267.82 519.1 L1268.06 521.1 L1268.26 523.1 L1268.46 525.1 L1268.66 527.1 L1268.86 529.1 L1269.08 531.1 L1269.31 533.1 L1269.54 535.1 L1269.77 537.1 L1270 539.1 L1270.42 541.1 L1270.83 543.1 L1271.25 545.1 L1271.66 547.1 L1272.08 549.1 L1272.3 551.1 L1272.51 553.1 L1272.72 555.1 L1272.94 557.1 L1273.15 559.1 L1273.52 561.1 L1273.93 563.1 L1274.36 565.1 L1274.77 567.1 L1275.19 569.1 L1275.47 571.1 L1275.7 573.1 L1275.93 575.1 L1276.16 577.1 L1276.39 579.1 L1276.49 581.1 L1276.59 583.1 L1276.69 585.1 L1276.79 587.1 L1276.89 589.1 L1277.19 591.1 L1277.5 593.1 L1277.82 595.1 L1278.14 597.1 L1278.45 599.1 L1278.79 601.1 L1279.12 603.1 L1279.46 605.1 L1279.8 607.1 L1280.12 609.1 L1280.33 611.1 L1280.54 613.1 L1280.74 615.1 L1280.95 617.1 L1281.16 619.1 L1281.37 621.1 L1281.58 623.1 L1281.78 625.1 L1281.99 627.1 L1282.2 629.1 L1282.42 631.1 L1282.64 633.1 L1282.85 635.1 L1283.07 637.1 L1283.29 639.1 L1283.48 641.1 L1283.67 643.1 L1283.87 645.1 L1284.06 647.1 L1284.25 649.1 L1284.55 651.1 L1284.89 653.1 L1285.23 655.1 L1285.56 657.1 L1285.9 659.1 L1286.12 661.1 L1286.34 663.1 L1286.55 665.1 L1286.77 667.1 L1286.99 669.1 L1287.3 671.1 L1287.62 673.1 L1287.93 675.1 L1288.25 677.1 L1288.57 679.1 L1288.7 681.1 L1288.81 683.1 L1288.92 685.1 L1289.03 687.1 L1289.19 689.1 L1289.4 691.1 L1289.62 693.1 L1289.84 695.1 L1290.06 697.1 L1290.32 699.1 L1290.65 701.1 L1290.99 703.1 L1291.33 705.1 L1291.67 707.1 L1291.98 709.1 L1292.28 711.1 L1292.58 713.1 L1292.88 715.1 L1293.18 717.1 L1293.45 719.1 L1293.66 721.1 L1293.87 723.1 L1294.08 725.1 L1294.29 727.1 L1294.46 729.1 L1294.58 731.1 L1294.69 733.1 L1294.81 735.1 L1294.93 737.1 L1295.08 739.1 L1295.28 741.1 L1295.48 743.1 L1295.67 745.1 L1295.87 747.1 L1296.15 749.1 L1296.6 751.1 L1297.04 753.1 L1297.48 755.1 L1297.92 757.1 L1298.22 759.1 L1298.43 761.1 L1298.64 763.1 L1298.85 765.1 L1299.05 767.1 L1299.27 769.1 L1299.5 771.1 L1299.73 773.1 L1299.96 775.1 L1300.19 777.1 L1300.4 779.1 L1300.6 781.1 L1300.8 783.1 L1300.99 785.1 L1301.19 787.1 L1301.4 789.1 L1301.62 791.1 L1301.83 793.1 L1302.05 795.1 L1302.27 797.1 L1302.53 799.1 L1302.85 801.1 L1303.17 803.1 L1303.49 805.1 L1303.81 807.1 L1304.08 809.1 L1304.29 811.1 L1304.49 813.1 L1304.7 815.1 L1304.91 817.1" fill="none" stroke="#0ff" stroke-width="5.4" stroke-linecap="round" stroke-dasharray="0 5.3"/>
<path d="M1096.8 17.1 L1096.81 19.1 L1096.95 21.1 L1097.1 23.1 L1097.24 25.1 L1097.39 27.1 L1097.53 29.1 L1097.72 31.1 L1097.95 33.1 L1098.17 35.1 L1098.4 37.1 L1098.62 39.1 L1098.89 41.1 L1099.34 43.1 L1099.79 45.1 L1100.23 47.1 L1100.68 49.1 L1101.13 51.1 L1101.54 53.1 L1101.9 55.1 L1102.25 57.1 L1102.61 59.1 L1102.96 61.1 L1103.32 63.1 L1103.66 65.1 L1104 67.1 L1104.34 69.1 L1104.68 71.1 L1105.02 73.1 L1105.55 75.1 L1106.16 77.1 L1106.76 79.1 L1107.36 81.1 L1107.97 83.1 L1108.53 85.1 L1109.04 87.1 L1109.55 89.1 L1110.06 91.1 L1110.57 93.1 L1111.1 95.1 L1111.77 97.1 L1112.43 99.1 L1113.21 101.1 L1114.08 103.1 L1115.08 105.1 L1116.35 107.1 L1117.61 109.1 L1118.83 111.1 L1120.02 113.1 L1121.87 115.1 L1124.08 117.1 L1126.29 119.1 L1128.5 121.1 L1130.71 123.1 L1132.55 125.1 L1134.5 127.1 L1136.59 129.1 L1138.69 131.1 L1140.76 133.1 L1142.81 135.1 L1145.02 137.1 L1147.23 139.1 L1149.44 141.1 L1151.57 143.1 L1153.62 145.1 L1155.67 147.1 L1157.72 149.1 L1159.77 151.1 L1161.65 153.1 L1162.59 155.1 L1163.52 157.1 L1164.45 159.1 L1165.39 161.1 L1166.3 163.1 L1166.88 165.1 L1167.26 167.1 L1167.63 169.1 L1168.01 171.1 L1168.3 173.1 L1168.49 175.1 L1169 177.1 L1169.51 179.1 L1170.01 181.1 L1170.52 183.1 L1171.28 185.1 L1172.57 187.1 L1173.86 189.1 L1175.15 191.1 L1176.41 193.1 L1177.64 195.1 L1178.87 197.1 L1180.1 199.1 L1181.5 201.1 L1182.72 203.1 L1183.81 205.1 L1184.9 207.1 L1186 209.1 L1187.09 211.1 L1188.21 213.1 L1189.39 215.1 L1190.56 217.1 L1191.74 219.1 L1192.76 221.1 L1193.49 223.1 L1194.11 225.1 L1194.73 227.1 L1195.35 229.1 L1195.97 231.1 L1196.64 233.1 L1197.44 235.1 L1198.23 237.1 L1199.03 239.1 L1199.83 241.1 L1200.5 243.1 L1201.08 245.1 L1201.66 247.1 L1202.24 249.1 L1202.82 251.1 L1203.48 253.1 L1204.17 255.1 L1204.86 257.1 L1205.55 259.1 L1206.24 261.1 L1206.95 263.1 L1207.66 265.1 L1208.37 267.1 L1209.08 269.1 L1209.78 271.1 L1210.55 273.1 L1211.34 275.1 L1212.14 277.1 L1212.94 279.1 L1213.64 281.1 L1214.59 283.1 L1215.58 285.1 L1216.57 287.1 L1217.56 289.1 L1218.49 291.1 L1219.24 293.1 L1219.98 295.1 L1220.73 297.1 L1221.47 299.1 L1222.27 301.1 L1223.11 303.1 L1223.95 305.1 L1224.79 307.1 L1225.63 309.1 L1226.43 311.1 L1227.01 313.1 L1227.6 315.1 L1228.19 317.1 L1228.77 319.1 L1229.32 321.1 L1229.82 323.1 L1230.31 325.1 L1230.81 327.1 L1231.31 329.1 L1232.03 331.1 L1232.92 333.1 L1233.82 335.1 L1234.71 337.1 L1235.6 339.1 L1236.55 341.1 L1237.64 343.1 L1238.73 345.1 L1239.82 347.1 L1240.89 349.1 L1241.61 351.1 L1242.28 353.1 L1242.94 355.1 L1243.61 357.1 L1244.27 359.1 L1244.91 361.1 L1245.55 363.1 L1246.18 365.1 L1246.81 367.1 L1247.45 369.1 L1247.98 371.1 L1248.51 373.1 L1249.04 375.1 L1249.57 377.1 L1250.09 379.1 L1250.58 381.1 L1250.99 383.1 L1251.4 385.1 L1251.81 387.1 L1252.22 389.1 L1252.59 391.1 L1252.95 393.1 L1253.3 395.1 L1253.65 397.1 L1254 399.1 L1254.42 401.1 L1254.87 403.1 L1255.32 405.1 L1255.77 407.1 L1256.22 409.1 L1256.6 411.1 L1256.87 413.1 L1257.15 415.1 L1257.42 417.1 L1257.69 419.1 L1258.05 421.1 L1258.47 423.1 L1258.89 425.1 L1259.31 427.1 L1259.73 429.1 L1260.04 431.1 L1260.33 433.1 L1260.61 435.1 L1260.9 437.1 L1261.18 439.1 L1261.48 441.1 L1261.8 443.1 L1262.12 445.1 L1262.44 447.1 L1262.76 449.1 L1263.13 451.1 L1263.5 453.1 L1263.88 455.1 L1264.26 457.1 L1264.64 459.1 L1264.9 461.1 L1265.01 463.1 L1265.12 465.1 L1265.23 467.1 L1265.34 469.1 L1265.68 471.1 L1266.11 473.1 L1266.53 475.1 L1266.96 477.1 L1267.38 479.1 L1267.57 481.1 L1267.76 483.1 L1267.95 485.1 L1268.14 487.1 L1268.33 489.1 L1268.68 491.1 L1269.1 493.1 L1269.52 495.1 L1269.94 497.1 L1270.36 499.1 L1270.51 501.1 L1270.63 503.1 L1270.74 505.1 L1270.86 507.1 L1270.98 509.1 L1271.35 511.1 L1271.77 513.1 L1272.19 515.1 L1272.6 517.1 L1273.02 519.1 L1273.26 521.1 L1273.46 523.1 L1273.66 525.1 L1273.86 527.1 L1274.06 529.1 L1274.28 531.1 L1274.51 533.1 L1274.74 535.1 L1274.97 537.1 L1275.2 539.1 L1275.62 541.1 L1276.03 543.1 L1276.45 545.1 L1276.86 547.1 L1277.28 549.1 L1277.5 551.1 L1277.71 553.1 L1277.92 555.1 L1278.14 557.1 L1278.35 559.1 L1278.71 561.1 L1279.13 563.1 L1279.55 565.1 L1279.97 567.1 L1280.39 569.1 L1280.67 571.1 L1280.9 573.1 L1281.13 575.1 L1281.36 577.1 L1281.59 579.1 L1281.69 581.1 L1281.79 583.1 L1281.89 585.1 L1281.99 587.1 L1282.09 589.1 L1282.39 591.1 L1282.7 593.1 L1283.02 595.1 L1283.34 597.1 L1283.65 599.1 L1283.99 601.1 L1284.32 603.1 L1284.66 605.1 L1285 607.1 L1285.32 609.1 L1285.53 611.1 L1285.74 613.1 L1285.94 615.1 L1286.15 617.1 L1286.36 619.1 L1286.57 621.1 L1286.77 623.1 L1286.98 625.1 L1287.19 627.1 L1287.4 629.1 L1287.62 631.1 L1287.84 633.1 L1288.05 635.1 L1288.27 637.1 L1288.49 639.1 L1288.68 641.1 L1288.87 643.1 L1289.07 645.1 L1289.26 647.1 L1289.45 649.1 L1289.75 651.1 L1290.09 653.1 L1290.43 655.1 L1290.76 657.1 L1291.1 659.1 L1291.32 661.1 L1291.54 663.1 L1291.75 665.1 L1291.97 667.1 L1292.19 669.1 L1292.5 671.1 L1292.82 673.1 L1293.13 675.1 L1293.45 677.1 L1293.77 679.1 L1293.9 681.1 L1294.01 683.1 L1294.12 685.1 L1294.23 687.1 L1294.39 689.1 L1294.6 691.1 L1294.82 693.1 L1295.04 695.1 L1295.26 697.1 L1295.52 699.1 L1295.85 701.1 L1296.19 703.1 L1296.53 705.1 L1296.87 707.1 L1297.18 709.1 L1297.48 711.1 L1297.78 713.1 L1298.08 715.1 L1298.38 717.1 L1298.65 719.1 L1298.86 721.1 L1299.07 723.1 L1299.28 725.1 L1299.49 727.1 L1299.66 729.1 L1299.78 731.1 L1299.89 733.1 L1300.01 735.1 L1300.13 737.1 L1300.28 739.1 L1300.48 741.1 L1300.68 743.1 L1300.87 745.1 L1301.07 747.1 L1301.35 749.1 L1301.8 751.1 L1302.24 753.1 L1302.68 755.1 L1303.12 757.1 L1303.42 759.1 L1303.63 761.1 L1303.84 763.1 L1304.05 765.1 L1304.25 767.1 L1304.47 769.1 L1304.7 771.1 L1304.93 773.1 L1305.16 775.1 L1305.39 777.1 L1305.6 779.1 L1305.8 781.1 L1306 783.1 L1306.19 785.1 L1306.39 787.1 L1306.6 789.1 L1306.82 791.1 L1307.03 793.1 L1307.25 795.1 L1307.47 797.1 L1307.73 799.1 L1308.05 801.1 L1308.37 803.1 L1308.69 805.1 L1309.01 807.1 L1309.28 809.1 L1309.49 811.1 L1309.69 813.1 L1309.9 815.1 L1310.11 817.1" fill="none" stroke="#0ff" stroke-width="5.4" stroke-linecap="round" stroke-dasharray="0 5.3" stroke-dashoffset="2"/>
<path d="M1099.3 19.1 L1099.5 23.08 L1100 27.06 L1100.6 31.04 L1101.3 35.02 L1102 39.01 L1102.7 42.99 L1103.8 48.96 L1105.9 58.91 L1109.1 68.86 L1111.7 78.81 L1115.4 88.77 L1120.2 98.72 L1128.5 108.67 L1135.9 118.62 L1149.7 138.53 L1155.6 158.44 L1167.2 178.34 L1188 198.24 L1197.7 218.15 L1218.9 267.91 L1232.7 317.68 L1246.5 417.2 L1260.7 516.73 L1274 616.25 L1286.7 715.77 L1298.6 815.3" fill="none" stroke="#f00" stroke-width="8.9" stroke-linejoin="round" stroke-linecap="round"/>
<g fill="#f00"><circle cx="1099.3" cy="19.1" r="6.15"/><circle cx="1099.5" cy="23.08" r="6.15"/><circle cx="1100" cy="27.06" r="6.15"/><circle cx="1100.6" cy="31.04" r="6.15"/><circle cx="1101.3" cy="35.02" r="6.15"/><circle cx="1102" cy="39.01" r="6.15"/><circle cx="1102.7" cy="42.99" r="6.15"/><circle cx="1103.8" cy="48.96" r="6.15"/><circle cx="1105.9" cy="58.91" r="6.15"/><circle cx="1109.1" cy="68.86" r="6.15"/><circle cx="1111.7" cy="78.81" r="6.15"/><circle cx="1115.4" cy="88.77" r="6.15"/><circle cx="1120.2" cy="98.72" r="6.15"/><circle cx="1128.5" cy="108.67" r="6.15"/><circle cx="1135.9" cy="118.62" r="6.15"/><circle cx="1149.7" cy="138.53" r="6.15"/><circle cx="1155.6" cy="158.44" r="6.15"/><circle cx="1167.2" cy="178.34" r="6.15"/><circle cx="1188" cy="198.24" r="6.15"/><circle cx="1197.7" cy="218.15" r="6.15"/><circle cx="1218.9" cy="267.91" r="6.15"/><circle cx="1232.7" cy="317.68" r="6.15"/><circle cx="1246.5" cy="417.2" r="6.15"/><circle cx="1260.7" cy="516.73" r="6.15"/><circle cx="1274" cy="616.25" r="6.15"/><circle cx="1286.7" cy="715.77" r="6.15"/><circle cx="1298.6" cy="815.3" r="6.15"/></g>
<path d="M1095.78 22.88 L1096.62 32.81 L1097.96 42.75 L1100.17 52.68 L1101.93 62.61 L1103.62 72.54 L1106.48 82.47 L1109.09 92.4 L1112.21 102.33 L1117.08 112.27 L1126.65 122.2 L1135.1 132.13 L1143.04 142.06 L1150.19 151.99 L1156.19 161.92 L1161.71 171.86 L1166.24 181.79 L1172.25 191.72 L1178.37 201.65 L1182.32 211.58 L1186.63 221.51 L1189.68 231.45 L1193.46 241.38 L1196.32 251.31 L1199.65 261.24 L1203.08 271.17 L1206.92 281.1 L1212.49 291.04 L1216.95 300.97 L1221.43 310.9 L1224.65 320.83 L1227.54 330.76 L1231.5 340.69 L1236.17 350.62 L1239.62 360.56 L1242.86 370.49 L1245.65 380.42 L1247.97 390.35 L1250.05 400.28 L1252.58 410.21 L1254.25 420.15 L1256.39 430.08 L1257.89 440.01 L1259.57 449.94 L1261.54 459.87 L1262.25 469.8 L1264.37 479.74 L1265.4 489.67 L1267.52 499.6 L1268.13 509.53 L1270.19 519.46 L1271.19 529.39 L1272.35 539.33 L1274.41 549.26 L1275.46 559.19 L1277.5 569.12 L1278.68 579.05 L1279.18 588.98 L1280.72 598.91 L1282.39 608.85 L1283.43 618.78 L1284.46 628.71 L1285.54 638.64 L1286.5 648.57 L1288.1 658.5 L1289.22 668.44 L1290.75 678.37 L1291.4 688.3 L1292.48 698.23 L1294.14 708.16 L1295.62 718.09 L1296.69 728.03 L1297.28 737.96 L1298.25 747.89 L1300.38 757.82 L1301.42 767.75 L1302.55 777.68 L1303.54 787.62 L1304.62 797.55 L1306.17 807.48" fill="none" stroke="#00f" stroke-width="2.6" stroke-linejoin="round"/>
<g fill="#00f"><circle cx="1095.78" cy="22.88" r="6.15"/><circle cx="1096.62" cy="32.81" r="6.15"/><circle cx="1097.96" cy="42.75" r="6.15"/><circle cx="1100.17" cy="52.68" r="6.15"/><circle cx="1101.93" cy="62.61" r="6.15"/><circle cx="1103.62" cy="72.54" r="6.15"/><circle cx="1106.48" cy="82.47" r="6.15"/><circle cx="1109.09" cy="92.4" r="6.15"/><circle cx="1112.21" cy="102.33" r="6.15"/><circle cx="1117.08" cy="112.27" r="6.15"/><circle cx="1126.65" cy="122.2" r="6.15"/><circle cx="1135.1" cy="132.13" r="6.15"/><circle cx="1143.04" cy="142.06" r="6.15"/><circle cx="1150.19" cy="151.99" r="6.15"/><circle cx="1156.19" cy="161.92" r="6.15"/><circle cx="1161.71" cy="171.86" r="6.15"/><circle cx="1166.24" cy="181.79" r="6.15"/><circle cx="1172.25" cy="191.72" r="6.15"/><circle cx="1178.37" cy="201.65" r="6.15"/><circle cx="1182.32" cy="211.58" r="6.15"/><circle cx="1186.63" cy="221.51" r="6.15"/><circle cx="1189.68" cy="231.45" r="6.15"/><circle cx="1193.46" cy="241.38" r="6.15"/><circle cx="1196.32" cy="251.31" r="6.15"/><circle cx="1199.65" cy="261.24" r="6.15"/><circle cx="1203.08" cy="271.17" r="6.15"/><circle cx="1206.92" cy="281.1" r="6.15"/><circle cx="1212.49" cy="291.04" r="6.15"/><circle cx="1216.95" cy="300.97" r="6.15"/><circle cx="1221.43" cy="310.9" r="6.15"/><circle cx="1224.65" cy="320.83" r="6.15"/><circle cx="1227.54" cy="330.76" r="6.15"/><circle cx="1231.5" cy="340.69" r="6.15"/><circle cx="1236.17" cy="350.62" r="6.15"/><circle cx="1239.62" cy="360.56" r="6.15"/><circle cx="1242.86" cy="370.49" r="6.15"/><circle cx="1245.65" cy="380.42" r="6.15"/><circle cx="1247.97" cy="390.35" r="6.15"/><circle cx="1250.05" cy="400.28" r="6.15"/><circle cx="1252.58" cy="410.21" r="6.15"/><circle cx="1254.25" cy="420.15" r="6.15"/><circle cx="1256.39" cy="430.08" r="6.15"/><circle cx="1257.89" cy="440.01" r="6.15"/><circle cx="1259.57" cy="449.94" r="6.15"/><circle cx="1261.54" cy="459.87" r="6.15"/><circle cx="1262.25" cy="469.8" r="6.15"/><circle cx="1264.37" cy="479.74" r="6.15"/><circle cx="1265.4" cy="489.67" r="6.15"/><circle cx="1267.52" cy="499.6" r="6.15"/><circle cx="1268.13" cy="509.53" r="6.15"/><circle cx="1270.19" cy="519.46" r="6.15"/><circle cx="1271.19" cy="529.39" r="6.15"/><circle cx="1272.35" cy="539.33" r="6.15"/><circle cx="1274.41" cy="549.26" r="6.15"/><circle cx="1275.46" cy="559.19" r="6.15"/><circle cx="1277.5" cy="569.12" r="6.15"/><circle cx="1278.68" cy="579.05" r="6.15"/><circle cx="1279.18" cy="588.98" r="6.15"/><circle cx="1280.72" cy="598.91" r="6.15"/><circle cx="1282.39" cy="608.85" r="6.15"/><circle cx="1283.43" cy="618.78" r="6.15"/><circle cx="1284.46" cy="628.71" r="6.15"/><circle cx="1285.54" cy="638.64" r="6.15"/><circle cx="1286.5" cy="648.57" r="6.15"/><circle cx="1288.1" cy="658.5" r="6.15"/><circle cx="1289.22" cy="668.44" r="6.15"/><circle cx="1290.75" cy="678.37" r="6.15"/><circle cx="1291.4" cy="688.3" r="6.15"/><circle cx="1292.48" cy="698.23" r="6.15"/><circle cx="1294.14" cy="708.16" r="6.15"/><circle cx="1295.62" cy="718.09" r="6.15"/><circle cx="1296.69" cy="728.03" r="6.15"/><circle cx="1297.28" cy="737.96" r="6.15"/><circle cx="1298.25" cy="747.89" r="6.15"/><circle cx="1300.38" cy="757.82" r="6.15"/><circle cx="1301.42" cy="767.75" r="6.15"/><circle cx="1302.55" cy="777.68" r="6.15"/><circle cx="1303.54" cy="787.62" r="6.15"/><circle cx="1304.62" cy="797.55" r="6.15"/><circle cx="1306.17" cy="807.48" r="6.15"/></g>
<path d="M1092.7 19.1 L1095.5 23.08 L1097.5 27.06 L1098.5 31.04 L1099 35.02 L1099.5 39.01 L1100 42.99 L1100.8 48.96 L1102.2 58.91 L1104 68.86 L1106 78.81 L1108.6 88.77 L1110.5 98.72 L1117.3 108.67 L1126.4 118.62 L1144.9 138.53 L1161.9 158.44 L1174.7 178.34 L1182.2 198.24 L1187.1 218.15 L1204.6 267.91 L1221 317.68 L1250.5 417.2 L1267.3 516.73 L1280.4 616.25 L1292.3 715.77 L1304.5 815.3" fill="none" stroke="#008000" stroke-width="2.6" stroke-linejoin="round"/>
<g fill="#008000"><circle cx="1092.7" cy="19.1" r="6.15"/><circle cx="1095.5" cy="23.08" r="6.15"/><circle cx="1097.5" cy="27.06" r="6.15"/><circle cx="1098.5" cy="31.04" r="6.15"/><circle cx="1099" cy="35.02" r="6.15"/><circle cx="1099.5" cy="39.01" r="6.15"/><circle cx="1100" cy="42.99" r="6.15"/><circle cx="1100.8" cy="48.96" r="6.15"/><circle cx="1102.2" cy="58.91" r="6.15"/><circle cx="1104" cy="68.86" r="6.15"/><circle cx="1106" cy="78.81" r="6.15"/><circle cx="1108.6" cy="88.77" r="6.15"/><circle cx="1110.5" cy="98.72" r="6.15"/><circle cx="1117.3" cy="108.67" r="6.15"/><circle cx="1126.4" cy="118.62" r="6.15"/><circle cx="1144.9" cy="138.53" r="6.15"/><circle cx="1161.9" cy="158.44" r="6.15"/><circle cx="1174.7" cy="178.34" r="6.15"/><circle cx="1182.2" cy="198.24" r="6.15"/><circle cx="1187.1" cy="218.15" r="6.15"/><circle cx="1204.6" cy="267.91" r="6.15"/><circle cx="1221" cy="317.68" r="6.15"/><circle cx="1250.5" cy="417.2" r="6.15"/><circle cx="1267.3" cy="516.73" r="6.15"/><circle cx="1280.4" cy="616.25" r="6.15"/><circle cx="1292.3" cy="715.77" r="6.15"/><circle cx="1304.5" cy="815.3" r="6.15"/></g>
<path d="M1096.8 20.08 L1096.9 22.17 L1097 24.37 L1097.2 26.7 L1097.4 29.21 L1097.6 31.92 L1097.8 34.88 L1098.1 38.16 L1098.4 41.8 L1098.8 45.91 L1099.2 50.57 L1100 55.92 L1101.2 62.09 L1103.5 69.28 L1106.7 77.71 L1109.7 87.64 L1117.5 99.4 L1128.5 113.4 L1139.6 130.1 L1153.4 150.09 L1169.4 174.07 L1186.8 202.87 L1201.7 237.52 L1216.8 279.19 L1232.7 329.32 L1246.7 389.58 L1258.5 461.94 L1271.6 548.65 L1284.6 652.33 L1299.7 775.91 L1318 922.66" fill="none" stroke="#f0f" stroke-width="2.6" stroke-linejoin="round"/>
<g fill="#f0f"><circle cx="1096.8" cy="20.08" r="6.15"/><circle cx="1096.9" cy="22.17" r="6.15"/><circle cx="1097" cy="24.37" r="6.15"/><circle cx="1097.2" cy="26.7" r="6.15"/><circle cx="1097.4" cy="29.21" r="6.15"/><circle cx="1097.6" cy="31.92" r="6.15"/><circle cx="1097.8" cy="34.88" r="6.15"/><circle cx="1098.1" cy="38.16" r="6.15"/><circle cx="1098.4" cy="41.8" r="6.15"/><circle cx="1098.8" cy="45.91" r="6.15"/><circle cx="1099.2" cy="50.57" r="6.15"/><circle cx="1100" cy="55.92" r="6.15"/><circle cx="1101.2" cy="62.09" r="6.15"/><circle cx="1103.5" cy="69.28" r="6.15"/><circle cx="1106.7" cy="77.71" r="6.15"/><circle cx="1109.7" cy="87.64" r="6.15"/><circle cx="1117.5" cy="99.4" r="6.15"/><circle cx="1128.5" cy="113.4" r="6.15"/><circle cx="1139.6" cy="130.1" r="6.15"/><circle cx="1153.4" cy="150.09" r="6.15"/><circle cx="1169.4" cy="174.07" r="6.15"/><circle cx="1186.8" cy="202.87" r="6.15"/><circle cx="1201.7" cy="237.52" r="6.15"/><circle cx="1216.8" cy="279.19" r="6.15"/><circle cx="1232.7" cy="329.32" r="6.15"/><circle cx="1246.7" cy="389.58" r="6.15"/><circle cx="1258.5" cy="461.94" r="6.15"/><circle cx="1271.6" cy="548.65" r="6.15"/><circle cx="1284.6" cy="652.33" r="6.15"/><circle cx="1299.7" cy="775.91" r="6.15"/><circle cx="1318" cy="922.66" r="6.15"/></g>
</g>
<rect class="sp" x="1072.5" y="19.5" width="402" height="795"/>
<path class="t" d="M1121.5 814.5 v6.4 M1201.5 814.5 v6.4 M1282.5 814.5 v6.4 M1363.5 814.5 v6.4 M1443.5 814.5 v6.4 M1072.5 19.5 h-6.4 M1072.5 68.5 h-6.4 M1072.5 118.5 h-6.4 M1072.5 168.5 h-6.4 M1072.5 218.5 h-6.4 M1072.5 267.5 h-6.4 M1072.5 317.5 h-6.4 M1072.5 367.5 h-6.4 M1072.5 417.5 h-6.4 M1072.5 466.5 h-6.4 M1072.5 516.5 h-6.4 M1072.5 566.5 h-6.4 M1072.5 616.5 h-6.4 M1072.5 666.5 h-6.4 M1072.5 715.5 h-6.4 M1072.5 765.5 h-6.4"/>
<g class="tk" text-anchor="middle">
<text transform="translate(1120.2 850.2) rotate(-45)" y="6.1">1024</text>
<text transform="translate(1200.2 850.2) rotate(-45)" y="6.1">1026</text>
<text transform="translate(1281.2 850.2) rotate(-45)" y="6.1">1028</text>
<text transform="translate(1362.2 850.2) rotate(-45)" y="6.1">1030</text>
<text transform="translate(1442.2 850.2) rotate(-45)" y="6.1">1032</text>
</g>
</g>
<g id="labels">
<text class="b" font-size="22.5px" text-anchor="middle" transform="translate(29.7 418.1) rotate(-90)">Depth (m)</text>
<text class="b" font-size="22.5px" x="179.0" y="871.9">Temperature (<tspan font-weight="normal" font-style="italic" font-size="15.75px" dy="-8.2" dx="0.5">o</tspan><tspan font-weight="normal" font-style="italic" dy="8.2" dx="0.3">C</tspan>)</text>
<text class="b" font-size="22.3px" text-anchor="middle" x="781.1" y="869.8">Salinity</text>
<text class="b" font-size="22.5px" text-anchor="middle" x="1272.6" y="895.7">Density (kg m-3)</text>
<text font-size="17.335px" font-style="italic" x="343.2" y="917.6" xml:space="preserve">Ocean Heat Content (kJ/cm^2) - Glider: 31.5911,  RTOFS: 26.3510,  ESPC: 30.4386,  CMEMS: 26.3221,  </text>
<g class="b" font-size="22.6px">
<text x="1523.9" y="36.6">Comparison Date: 2025-09-28</text>
<text x="1523.9" y="90.1">Glider: ng738</text>
<text x="1523.9" y="116.75">Profiles: 11</text>
<text x="1523.9" y="143.4">First: 2025-09-28 00:39:16</text>
<text x="1523.9" y="170.05">Last: 2025-09-28 20:59:51</text>
<text x="1523.9" y="196.7">Method: Nearest-Neighbor</text>
</g>
</g>
<g id="map">
<clipPath id="mc"><rect x="1564" y="274.3" width="402.6" height="284.8"/></clipPath>
<clipPath id="mc2"><rect x="1563.3" y="273.6" width="404" height="286.2"/></clipPath>
<rect x="1564" y="274.3" width="402.6" height="284.8" fill="#97b6e1"/>
<rect x="1564" y="274.3" width="402.6" height="284.8" fill="none" stroke="#000" stroke-width="1.33"/>
<g clip-path="url(#mc2)"><path d="M1563.3 273.6 L1707.6 273.6 L1707.6 274.2 L1709.8 279.2 L1710.7 284.1 L1710.6 289.4 L1709.8 294.8 L1708.2 295.8 L1704.4 295.3 L1700.7 298 L1696.4 301.2 L1692.7 305.5 L1690 309.2 L1686.8 313.5 L1685.2 311.9 L1683 310.3 L1677.7 310.3 L1673.4 310.8 L1669.6 313 L1665.4 316.2 L1661.2 318.4 L1657.2 322.7 L1655.2 326.7 L1654.7 332.8 L1652.1 330.8 L1646.1 330.8 L1641 331.8 L1635.9 334.3 L1631.9 338.8 L1627.9 346.1 L1624.8 351.1 L1619.8 355.2 L1614.7 359.2 L1609.7 363.3 L1603.6 366.3 L1598.5 370.3 L1593.5 374.4 L1590.4 378.4 L1587.4 382.5 L1584.4 387.5 L1581.3 393.6 L1578.8 399.7 L1577.3 405.7 L1576.3 411.8 L1576.8 417.9 L1578.3 425.9 L1579.3 435.2 L1583.4 445.3 L1588.4 455.4 L1593.5 464.5 L1597 470.6 L1596 476.6 L1597.5 484.7 L1600.6 492.5 L1604.6 502.2 L1608.1 510.3 L1608.6 518.4 L1607.6 527.5 L1606.1 536.6 L1604.6 543.7 L1602.6 550.8 L1599.5 556.8 L1597.5 559.1 L1590.4 557.9 L1585.4 554.8 L1583.4 550.8 L1583.9 545.7 L1579.3 540.7 L1573.3 536.6 L1569.2 532.6 L1567.2 525.5 L1566.2 520.4 L1568.7 516.9 L1565.2 517.4 L1564 519.4 L1563.3 519.4Z" fill="#d2b48c"/></g>
<g clip-path="url(#mc)">
<path d="M1706 278 L1709.6 279.5 L1710.6 284.1 L1710.4 291 L1709.4 295 L1704.4 295.5 L1700.7 298.2 L1696.4 301.4 L1690 300.1 L1686.8 300.1 L1685.2 300.7 L1687.8 297.4 L1688.9 294.2 L1693.2 293.2 L1697.5 291.6 L1700.7 288.3 L1702.8 284.6Z" fill="#97b6e1"/>
<g fill="none" stroke="#97b6e1" stroke-width="1.7" stroke-linejoin="round" stroke-linecap="round">
<path d="M1598.5 273.9 L1600.6 277.2 L1598.5 281.2 L1604.6 286.3 L1607.6 291.3 L1607.6 296.4 L1611.7 299.4 L1611.7 306.5 L1613.7 314.6 L1618.8 320.6 L1620.8 328.7 L1628.9 337.8 L1627.9 342.9 L1626.8 345.9"/>
<path d="M1622.8 273.9 L1629.9 282.2 L1631.9 287.3 L1638 292.3 L1639 295.4 L1634.9 299.4 L1635.9 306.5 L1641 312.6 L1647.1 317.6 L1653.1 320.6 L1655.2 324.7"/>
<path d="M1564 294.4 L1573.3 297.4 L1576.3 304.5 L1577.3 314.6 L1580.3 322.7 L1585.4 327.7 L1587.4 332.8 L1595.5 336.8 L1600.6 342.9 L1606.6 341.9 L1614.7 345.9 L1623.8 351"/>
<path d="M1604.6 342.9 L1608.6 349 L1610.7 358.2"/>
<path d="M1575.3 326.2 L1583.4 327.2"/>
<path d="M1564 386.5 L1570.2 392.6 L1575.3 398.1"/>
<path d="M1577.3 422.9 L1572.8 423.4 L1571.2 426.9 L1573.3 438.2 L1570.7 444.3 L1575.3 453.4 L1579.3 462.5 L1585.4 464.5 L1589.4 472.6 L1592.5 480.7 L1588.4 481.7 L1584.9 478.6"/>
</g>
<path d="M1670.7 274.4 L1674.5 277.1 L1678.7 279 L1683 276.6" fill="none" stroke="#97b6e1" stroke-width="2.2" stroke-linejoin="round"/>
<path d="M1590.4 504.3 L1595 509.3 L1593.5 514.4 L1591.5 516.6 L1587.4 512.4 L1585.2 509.9Z" fill="#b3b3b3"/>
<g fill="#b3b3b3"><circle cx="1572.2" cy="468.5" r="1.3"/><circle cx="1580.3" cy="486.2" r="1.6"/><circle cx="1580.3" cy="499.4" r="1.4"/></g>
<g fill="none" stroke="#000" stroke-width="1.5" stroke-linejoin="round">
<path d="M1564 296.6 L1585.4 297.4 L1587.5 299 L1590.4 302.4 L1591.5 306.2 L1616.7 306.5 L1641 331.3"/>
<path d="M1564 340.9 L1570.2 348.1 L1575.3 355.2 L1578.3 363.3 L1582.4 369.3 L1584.4 377.4 L1589.4 380.4"/>
<path d="M1564 412.3 L1570.2 413.3 L1576.3 414.8"/>
</g>
<path d="M1707.6 274.2 L1709.8 279.2 L1710.7 284.1 L1710.6 289.4 L1709.8 294.8 L1708.2 295.8 L1704.4 295.3 L1700.7 298 L1696.4 301.2 L1692.7 305.5 L1690 309.2 L1686.8 313.5 L1685.2 311.9 L1683 310.3 L1677.7 310.3 L1673.4 310.8 L1669.6 313 L1665.4 316.2 L1661.2 318.4 L1657.2 322.7 L1655.2 326.7 L1654.7 332.8 L1652.1 330.8 L1646.1 330.8 L1641 331.8 L1635.9 334.3 L1631.9 338.8 L1627.9 346.1 L1624.8 351.1 L1619.8 355.2 L1614.7 359.2 L1609.7 363.3 L1603.6 366.3 L1598.5 370.3 L1593.5 374.4 L1590.4 378.4 L1587.4 382.5 L1584.4 387.5 L1581.3 393.6 L1578.8 399.7 L1577.3 405.7 L1576.3 411.8 L1576.8 417.9 L1578.3 425.9 L1579.3 435.2 L1583.4 445.3 L1588.4 455.4 L1593.5 464.5 L1597 470.6 L1596 476.6 L1597.5 484.7 L1600.6 492.5 L1604.6 502.2 L1608.1 510.3 L1608.6 518.4 L1607.6 527.5 L1606.1 536.6 L1604.6 543.7 L1602.6 550.8 L1599.5 556.8 L1597.5 559.1 L1590.4 557.9 L1585.4 554.8 L1583.4 550.8 L1583.9 545.7 L1579.3 540.7 L1573.3 536.6 L1569.2 532.6 L1567.2 525.5 L1566.2 520.4 L1568.7 516.9 L1565.2 517.4 L1564 519.4" fill="none" stroke="#000" stroke-width="2.5" stroke-linejoin="round" stroke-linecap="round"/>
<g fill="none" stroke="#000" stroke-linejoin="round" stroke-linecap="round">
<path stroke-width="3.2" d="M1675.5 288.1 L1678.7 289.4 L1682.5 290.8"/>
<path stroke-width="5" d="M1684.1 289.2 L1686.8 288.6 L1687.6 290.5"/>
<path stroke-width="3" d="M1687.8 290.5 L1690 290 L1693.2 291.8 L1696.4 291 L1698.5 288.3 L1701.2 284.6 L1703.9 281.7 L1705.5 278.7"/>
<path stroke-width="3.4" d="M1687.8 291.6 L1685.7 295.8 L1684.1 298"/>
<path stroke-width="3.4" d="M1675.5 300.1 L1678.2 302.3 L1681.4 303.3 L1684.6 302.3 L1687.8 300.1 L1692.1 301.2"/>
<path stroke-width="4.5" d="M1690 302.8 L1688.9 306.5 L1687 310.6"/>
<path stroke-width="3" d="M1683 310.3 L1677.7 310.3 L1673.4 310.8 L1669.6 313 L1665.4 316.2 L1661.2 318.4"/>
<path stroke-width="2.6" d="M1681.4 275.2 L1687.8 276 L1693.2 276.8 L1696.9 276 L1707.6 274.9"/>
<path stroke-width="2.6" d="M1697.7 276 L1697.5 284.1"/>
<path stroke-width="1.6" d="M1701.2 278.7 L1702.8 283.5"/>
<path stroke-width="3.4" d="M1626 346 L1624.5 351"/>
<path stroke-width="3.2" d="M1621 355 L1615 359.5 L1610 363 L1604 366.5"/>
<path stroke-width="4.2" d="M1601 368.5 L1596.5 370 L1592 369 L1590.5 373.5 L1594 373"/>
<path stroke-width="4.4" d="M1588.5 382 L1584.5 387 L1581.5 393 L1579 399.5 L1577.3 406 L1576.5 411.5"/>
<path stroke-width="2.6" d="M1573.5 401.5 L1576 403"/>
<path stroke-width="3.6" d="M1591.5 468 L1594.5 472 L1596 476.5 L1594.5 470"/>
<path stroke-width="2.6" d="M1597 478 L1598 486 L1601 493 L1604 501"/>
<path stroke-width="2.6" d="M1602 503 L1605.5 507.5"/>
<path stroke-width="3" d="M1608 512 L1608.3 520 L1607.4 528 L1606 536 L1604.4 544 L1602.4 551 L1599 557"/>
<path stroke-width="3" d="M1566.5 519 L1567.3 526 L1569.5 532.5 L1573.5 536.5 L1579.3 540.5 L1583.5 545 L1583.5 551 L1586 555 L1591 558 L1597 558.5"/>
<path stroke-width="3" d="M1566 517 L1568.5 516.5"/>
<path stroke-width="2.8" d="M1644 502.2 L1651.1 506.3 L1658.2 509.3 L1664.3 512.4"/>
<path stroke-width="3.6" d="M1656.5 511.5 L1662 511 L1666 514"/>
<path stroke-width="5.6" d="M1664.3 512.4 L1669.3 516.4 L1673.8 519.6 L1675.2 523 L1673.8 526.5 L1671.5 528.5"/>
<path stroke-width="3.6" d="M1671.5 528.5 L1670.3 534.6 L1671.3 537.6"/>
<path stroke-width="3.8" d="M1630.9 515.4 L1637 520.4 L1643 518.4 L1641 513.2 L1647.1 515.4 L1655.2 515.4 L1656.2 511.3 L1661.2 510.3"/>
<path stroke-width="4.6" d="M1640.5 514 L1642.5 517.5"/>
<path stroke-width="2.4" d="M1648.6 509.8 L1649.6 508.8"/>
<path stroke-width="2.4" d="M1656.7 519.9 L1657.7 520.9"/>
<path stroke-width="2.6" d="M1663 526 L1663.5 527"/>
<path stroke-width="2.4" d="M1663.6 531.2 L1664 532"/>
<path stroke-width="3" d="M1624.8 538.6 L1625.4 541.5"/>
<path stroke-width="1.4" d="M1625.6 543.5 L1626.4 547"/>
<path stroke-width="3" d="M1655.2 538.1 L1659.7 543.7 L1658.7 547.7 L1655.2 548.8"/>
<path stroke-width="3.6" d="M1650.1 550.8 L1648.8 554.8 L1652.1 558.5"/>
<path stroke-width="2.6" d="M1663.2 558.2 L1671.3 555.3 L1677.4 550.8 L1680.4 545.9"/>
<path stroke-width="3.4" d="M1680.4 545.9 L1683.5 545.7"/>
<path stroke-width="2.4" d="M1683.5 545.7 L1689.5 550.8 L1695.6 555.8 L1695.6 558.6"/>
<path stroke-width="3.3" d="M1945.8 373.3 L1948.5 372.6 L1951.6 371"/>
</g>
<g fill="#000"><circle cx="1631.81" cy="339.78" r="1.39"/><circle cx="1631.69" cy="342.08" r="1.13"/><circle cx="1630.31" cy="344.44" r="0.83"/><circle cx="1627.38" cy="347.28" r="0.88"/><circle cx="1627.52" cy="350.79" r="0.91"/><circle cx="1625.28" cy="352.82" r="1.65"/><circle cx="1621.51" cy="355.13" r="1.68"/><circle cx="1621.06" cy="357.05" r="1.06"/><circle cx="1617.07" cy="357.73" r="1.08"/><circle cx="1612.96" cy="361.24" r="1.32"/><circle cx="1611.22" cy="363.31" r="1.29"/><circle cx="1609.64" cy="363.5" r="0.99"/><circle cx="1606.77" cy="365.98" r="1.08"/><circle cx="1604.96" cy="366.94" r="1.07"/><circle cx="1602.7" cy="369.32" r="1.02"/><circle cx="1600.43" cy="370.52" r="1.59"/><circle cx="1597.15" cy="372.37" r="1.68"/><circle cx="1596.39" cy="373.43" r="1.48"/><circle cx="1594.27" cy="375.48" r="0.84"/><circle cx="1592.49" cy="378.95" r="1.32"/><circle cx="1589.75" cy="380.68" r="1.43"/><circle cx="1589.23" cy="382.56" r="1.21"/><circle cx="1588.25" cy="385.86" r="1.23"/><circle cx="1585.04" cy="386.74" r="1.43"/><circle cx="1586.03" cy="389.99" r="1.54"/><circle cx="1583.97" cy="390.57" r="1.4"/><circle cx="1583.38" cy="392.16" r="0.95"/><circle cx="1581.3" cy="394.02" r="1.49"/><circle cx="1580.48" cy="397.29" r="1.15"/><circle cx="1578.35" cy="402.37" r="1.2"/><circle cx="1579.87" cy="404.91" r="1.54"/><circle cx="1577.58" cy="408.45" r="1.17"/><circle cx="1578.89" cy="410.22" r="1.66"/><circle cx="1576.79" cy="412.22" r="1.01"/><circle cx="1577.87" cy="415.46" r="1.33"/><circle cx="1576.94" cy="418.6" r="1.18"/><circle cx="1578.93" cy="421.28" r="1.66"/><circle cx="1579.46" cy="424.83" r="1.36"/><circle cx="1578.61" cy="427.46" r="1.61"/><circle cx="1581.01" cy="429.8" r="1.52"/><circle cx="1579.93" cy="431.35" r="0.89"/><circle cx="1579.37" cy="434.33" r="0.86"/><circle cx="1708.3" cy="275.14" r="0.9"/><circle cx="1709.85" cy="279.46" r="0.79"/><circle cx="1711.27" cy="284.65" r="0.72"/><circle cx="1710.87" cy="294.27" r="0.79"/><circle cx="1709.69" cy="295.52" r="0.92"/><circle cx="1707.56" cy="297.09" r="1.3"/><circle cx="1703.13" cy="297.18" r="0.75"/><circle cx="1700.59" cy="298.77" r="0.86"/><circle cx="1693.53" cy="304.93" r="0.71"/><circle cx="1690.82" cy="309.52" r="0.79"/><circle cx="1688.3" cy="311.56" r="1.02"/><circle cx="1684.26" cy="312.91" r="1.12"/><circle cx="1684.28" cy="311.96" r="0.8"/><circle cx="1678.91" cy="311.15" r="1.17"/><circle cx="1676.32" cy="310.82" r="1.19"/><circle cx="1670.34" cy="314.15" r="1.18"/><circle cx="1666.88" cy="316.56" r="0.84"/><circle cx="1663.49" cy="317.84" r="0.72"/><circle cx="1661.42" cy="318.82" r="0.86"/><circle cx="1657.18" cy="326.15" r="0.97"/><circle cx="1656.54" cy="329.69" r="1.27"/><circle cx="1655.21" cy="330.89" r="0.84"/><circle cx="1653.99" cy="332.67" r="1.07"/><circle cx="1649.4" cy="332.14" r="0.99"/><circle cx="1647.14" cy="332.08" r="0.75"/><circle cx="1643.01" cy="332.89" r="1.17"/><circle cx="1637.51" cy="334.36" r="0.81"/><circle cx="1634.72" cy="336.43" r="1.18"/><circle cx="1632.43" cy="339.16" r="0.94"/><circle cx="1587.19" cy="557.79" r="1.02"/><circle cx="1587.41" cy="556.44" r="1.53"/><circle cx="1583.5" cy="551.72" r="1.48"/><circle cx="1582.21" cy="548.16" r="1.15"/><circle cx="1583.5" cy="546.82" r="0.91"/><circle cx="1580.62" cy="544.24" r="1.27"/><circle cx="1578.75" cy="541.51" r="1.51"/><circle cx="1577.39" cy="539.95" r="1.08"/><circle cx="1576.42" cy="539.37" r="1.31"/><circle cx="1574.26" cy="538.37" r="0.99"/><circle cx="1570.89" cy="535.34" r="1.22"/><circle cx="1568.66" cy="534.86" r="1.19"/><circle cx="1567.53" cy="530.73" r="1.27"/><circle cx="1568.14" cy="529.01" r="1.21"/><circle cx="1567.74" cy="527.44" r="1.46"/><circle cx="1566.09" cy="525.26" r="1.41"/><circle cx="1565.72" cy="521.67" r="1.26"/><circle cx="1566.18" cy="517.45" r="0.97"/><circle cx="1566.82" cy="517.72" r="1.09"/><circle cx="1565.23" cy="519.52" r="1.29"/><circle cx="1581.87" cy="438.63" r="0.87"/><circle cx="1583.17" cy="443.12" r="0.91"/><circle cx="1585.62" cy="448.56" r="0.92"/><circle cx="1588.11" cy="452.26" r="1.02"/><circle cx="1591.62" cy="458.84" r="0.76"/><circle cx="1593.36" cy="461.94" r="1.1"/><circle cx="1594.11" cy="465.26" r="0.87"/><circle cx="1597.21" cy="471.08" r="0.64"/><circle cx="1597.43" cy="479.14" r="1.14"/><circle cx="1597.71" cy="481.12" r="1"/><circle cx="1598.71" cy="484.87" r="1.18"/><circle cx="1600.45" cy="489.03" r="0.84"/><circle cx="1602.67" cy="494.41" r="1.1"/><circle cx="1603.4" cy="497.94" r="0.91"/><circle cx="1605.41" cy="503.48" r="0.79"/><circle cx="1607.64" cy="509.17" r="0.93"/><circle cx="1608.23" cy="512.08" r="0.8"/><circle cx="1609.12" cy="516.84" r="0.64"/><circle cx="1609.05" cy="522.99" r="1.18"/><circle cx="1608.36" cy="523.46" r="0.62"/><circle cx="1607.34" cy="531.1" r="0.68"/><circle cx="1607.61" cy="534.15" r="1.09"/><circle cx="1605.89" cy="538.47" r="1.15"/><circle cx="1604.27" cy="547.98" r="0.65"/><circle cx="1603.16" cy="551.52" r="0.86"/><circle cx="1600.2" cy="557.71" r="0.98"/></g>
</g>
<circle cx="1724.6" cy="392.3" r="4.55" fill="#f00" stroke="#000" stroke-width="1.7"/>
<path d="M1587.45 274.3 v-8.4 M1587.45 559.1 v8.4 M1654.28 274.3 v-8.4 M1654.28 559.1 v8.4 M1721.1 274.3 v-8.4 M1721.1 559.1 v8.4 M1787.92 274.3 v-8.4 M1787.92 559.1 v8.4 M1854.75 274.3 v-8.4 M1854.75 559.1 v8.4 M1921.58 274.3 v-8.4 M1921.58 559.1 v8.4 M1564 509.85 h-8.4 M1966.6 509.85 h8.4 M1564 433.79 h-8.4 M1966.6 433.79 h8.4 M1564 355.4 h-8.4 M1966.6 355.4 h8.4 M1564 274.3 h-8.4 M1966.6 274.3 h8.4" stroke="#000" stroke-width="3.2" fill="none"/>
<path d="M1563.8 274.3 v-3.3 M1563.8 559.1 v3.3 M1608.5 274.3 v-3.3 M1608.5 559.1 v3.3 M1630.85 274.3 v-3.3 M1630.85 559.1 v3.3 M1675.55 274.3 v-3.3 M1675.55 559.1 v3.3 M1697.9 274.3 v-3.3 M1697.9 559.1 v3.3 M1742.6 274.3 v-3.3 M1742.6 559.1 v3.3 M1764.95 274.3 v-3.3 M1764.95 559.1 v3.3 M1809.65 274.3 v-3.3 M1809.65 559.1 v3.3 M1832 274.3 v-3.3 M1832 559.1 v3.3 M1876.7 274.3 v-3.3 M1876.7 559.1 v3.3 M1899.05 274.3 v-3.3 M1899.05 559.1 v3.3 M1943.75 274.3 v-3.3 M1943.75 559.1 v3.3 M1966.1 274.3 v-3.3 M1966.1 559.1 v3.3 M1564 559.42 h-3.3 M1966.6 559.42 h3.3 M1564 534.74 h-3.3 M1966.6 534.74 h3.3 M1564 484.73 h-3.3 M1966.6 484.73 h3.3 M1564 459.39 h-3.3 M1966.6 459.39 h3.3 M1564 407.94 h-3.3 M1966.6 407.94 h3.3 M1564 381.82 h-3.3 M1966.6 381.82 h3.3 M1564 328.69 h-3.3 M1966.6 328.69 h3.3 M1564 301.66 h-3.3 M1966.6 301.66 h3.3" stroke="#000" stroke-width="1.6" fill="none"/>
<g font-size="22.1px">
<text x="1548.3" y="283.7" text-anchor="end">36°N</text>
<text x="1548.3" y="364.8" text-anchor="end">33°N</text>
<text x="1548.3" y="443.19" text-anchor="end">30°N</text>
<text x="1548.3" y="519.25" text-anchor="end">27°N</text>
<text transform="translate(1584.45 603.2) rotate(-45)" y="7.9" text-anchor="middle">81°W</text>
<text transform="translate(1651.28 603.2) rotate(-45)" y="7.9" text-anchor="middle">78°W</text>
<text transform="translate(1718.1 603.2) rotate(-45)" y="7.9" text-anchor="middle">75°W</text>
<text transform="translate(1784.92 603.2) rotate(-45)" y="7.9" text-anchor="middle">72°W</text>
<text transform="translate(1851.75 603.2) rotate(-45)" y="7.9" text-anchor="middle">69°W</text>
<text transform="translate(1918.58 603.2) rotate(-45)" y="7.9" text-anchor="middle">66°W</text>
</g>
</g>
<g id="legend">
<rect x="1682.7" y="652.7" width="165.3" height="144.2" rx="3.4" ry="3.4" fill="#fff" stroke="#d0d0d0" stroke-width="1.33"/>
<path d="M1691.1 672.4 H1738.8" stroke="#00f" stroke-width="2.6" fill="none"/>
<circle cx="1714.65" cy="672.4" r="5.85" fill="#00f"/>
<text x="1755.3" y="680.4" font-size="22.5px">ng738</text>
<path d="M1691.1 706.5 H1738.8" stroke="#f00" stroke-width="2.6" fill="none"/>
<circle cx="1714.65" cy="706.5" r="5.85" fill="#f00"/>
<text x="1755.3" y="714.5" font-size="22.5px">RTOFS</text>
<path d="M1691.1 740.5 H1738.8" stroke="#008000" stroke-width="2.6" fill="none"/>
<circle cx="1714.65" cy="740.5" r="5.85" fill="#008000"/>
<text x="1755.3" y="748.5" font-size="22.5px">ESPC</text>
<path d="M1691.1 775.1 H1738.8" stroke="#f0f" stroke-width="2.6" fill="none"/>
<circle cx="1714.65" cy="775.1" r="5.85" fill="#f0f"/>
<text x="1755.3" y="783.1" font-size="22.5px">CMEMS</text>
</g>
</svg></body></html>
